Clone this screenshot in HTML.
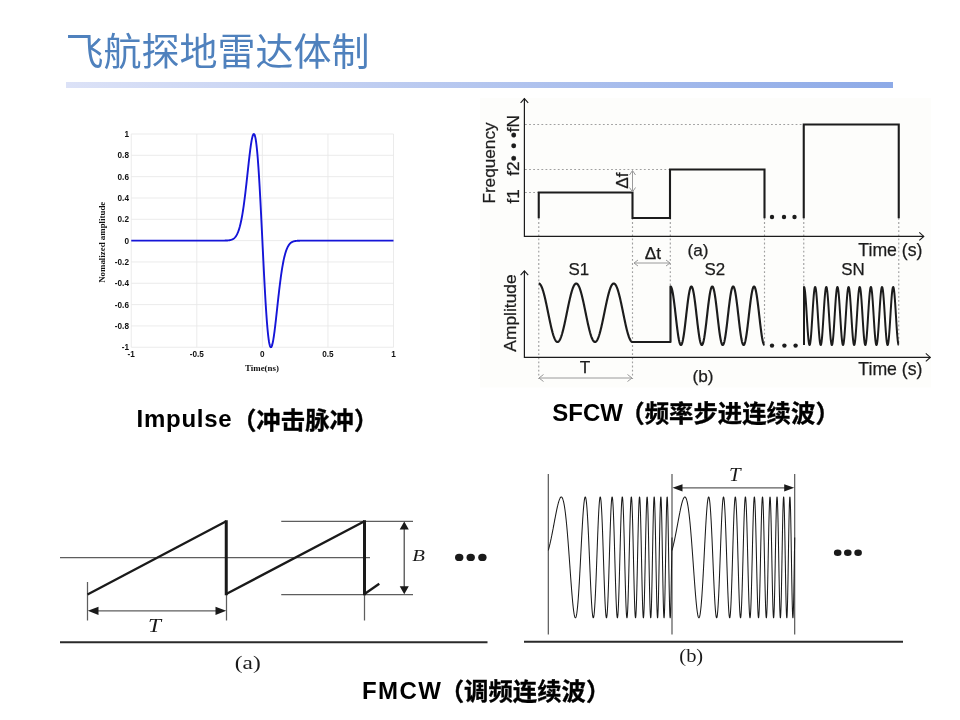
<!DOCTYPE html>
<html lang="zh-CN"><head><meta charset="utf-8"><title>飞航探地雷达体制</title>
<style>
html,body{margin:0;padding:0;background:#fff;}
body{width:960px;height:720px;position:relative;overflow:hidden;font-family:"Liberation Sans","Noto Sans CJK SC",sans-serif;}
.title{position:absolute;left:65.5px;top:25px;font-size:38px;line-height:54px;color:#4f81bd;font-weight:400;white-space:nowrap;letter-spacing:0;}
.bar{position:absolute;left:66px;top:82px;width:827px;height:6px;background:linear-gradient(90deg,#dce2f7 0%,#8daae7 100%);}
.cap{position:absolute;font-weight:700;font-size:23.5px;line-height:32px;color:#000;white-space:nowrap;}
svg{position:absolute;left:0;top:0;}
</style></head><body>
<div class="title">飞航探地雷达体制</div>
<div class="bar"></div>
<svg width="960" height="720" viewBox="0 0 960 720">
<path d="M131.25,134.0V347.25M196.81,134.0V347.25M262.38,134.0V347.25M327.94,134.0V347.25M393.50,134.0V347.25M131.25,134.00H393.5M131.25,155.32H393.5M131.25,176.65H393.5M131.25,197.97H393.5M131.25,219.30H393.5M131.25,240.62H393.5M131.25,261.95H393.5M131.25,283.27H393.5M131.25,304.60H393.5M131.25,325.93H393.5M131.25,347.25H393.5" stroke="#e7e7e7" stroke-width="0.85" fill="none"/>
<path d="M131.25,240.62 L131.58,240.62 L131.91,240.62 L132.23,240.62 L132.56,240.62 L132.89,240.62 L133.22,240.62 L133.54,240.62 L133.87,240.62 L134.20,240.62 L134.53,240.62 L134.86,240.62 L135.18,240.62 L135.51,240.62 L135.84,240.62 L136.17,240.62 L136.50,240.62 L136.82,240.62 L137.15,240.62 L137.48,240.62 L137.81,240.62 L138.13,240.62 L138.46,240.62 L138.79,240.62 L139.12,240.62 L139.45,240.62 L139.77,240.62 L140.10,240.62 L140.43,240.62 L140.76,240.62 L141.08,240.62 L141.41,240.62 L141.74,240.62 L142.07,240.62 L142.40,240.62 L142.72,240.62 L143.05,240.62 L143.38,240.62 L143.71,240.62 L144.03,240.62 L144.36,240.62 L144.69,240.62 L145.02,240.62 L145.35,240.62 L145.67,240.62 L146.00,240.62 L146.33,240.62 L146.66,240.62 L146.99,240.62 L147.31,240.62 L147.64,240.62 L147.97,240.62 L148.30,240.62 L148.62,240.62 L148.95,240.62 L149.28,240.62 L149.61,240.62 L149.94,240.62 L150.26,240.62 L150.59,240.62 L150.92,240.62 L151.25,240.62 L151.57,240.62 L151.90,240.62 L152.23,240.62 L152.56,240.62 L152.89,240.62 L153.21,240.62 L153.54,240.62 L153.87,240.62 L154.20,240.62 L154.52,240.62 L154.85,240.62 L155.18,240.62 L155.51,240.62 L155.84,240.62 L156.16,240.62 L156.49,240.62 L156.82,240.62 L157.15,240.62 L157.47,240.62 L157.80,240.62 L158.13,240.62 L158.46,240.62 L158.79,240.62 L159.11,240.62 L159.44,240.62 L159.77,240.62 L160.10,240.62 L160.43,240.62 L160.75,240.62 L161.08,240.62 L161.41,240.62 L161.74,240.62 L162.06,240.62 L162.39,240.62 L162.72,240.62 L163.05,240.62 L163.38,240.62 L163.70,240.62 L164.03,240.62 L164.36,240.62 L164.69,240.62 L165.01,240.62 L165.34,240.62 L165.67,240.62 L166.00,240.62 L166.33,240.62 L166.65,240.62 L166.98,240.62 L167.31,240.62 L167.64,240.62 L167.97,240.62 L168.29,240.62 L168.62,240.62 L168.95,240.62 L169.28,240.62 L169.60,240.62 L169.93,240.62 L170.26,240.62 L170.59,240.62 L170.92,240.62 L171.24,240.62 L171.57,240.62 L171.90,240.62 L172.23,240.62 L172.55,240.62 L172.88,240.62 L173.21,240.62 L173.54,240.62 L173.87,240.62 L174.19,240.62 L174.52,240.62 L174.85,240.62 L175.18,240.62 L175.50,240.62 L175.83,240.62 L176.16,240.62 L176.49,240.62 L176.82,240.62 L177.14,240.62 L177.47,240.62 L177.80,240.62 L178.13,240.62 L178.45,240.62 L178.78,240.62 L179.11,240.62 L179.44,240.62 L179.77,240.62 L180.09,240.62 L180.42,240.62 L180.75,240.62 L181.08,240.62 L181.41,240.62 L181.73,240.62 L182.06,240.62 L182.39,240.62 L182.72,240.62 L183.04,240.62 L183.37,240.62 L183.70,240.62 L184.03,240.62 L184.36,240.62 L184.68,240.62 L185.01,240.62 L185.34,240.62 L185.67,240.62 L185.99,240.62 L186.32,240.62 L186.65,240.62 L186.98,240.62 L187.31,240.62 L187.63,240.62 L187.96,240.62 L188.29,240.62 L188.62,240.62 L188.94,240.62 L189.27,240.62 L189.60,240.62 L189.93,240.62 L190.26,240.62 L190.58,240.62 L190.91,240.62 L191.24,240.62 L191.57,240.62 L191.90,240.62 L192.22,240.62 L192.55,240.62 L192.88,240.62 L193.21,240.62 L193.53,240.62 L193.86,240.62 L194.19,240.62 L194.52,240.62 L194.85,240.62 L195.17,240.62 L195.50,240.62 L195.83,240.62 L196.16,240.62 L196.48,240.62 L196.81,240.62 L197.14,240.62 L197.47,240.62 L197.80,240.62 L198.12,240.62 L198.45,240.62 L198.78,240.62 L199.11,240.62 L199.44,240.62 L199.76,240.62 L200.09,240.62 L200.42,240.62 L200.75,240.62 L201.07,240.62 L201.40,240.62 L201.73,240.62 L202.06,240.62 L202.39,240.62 L202.71,240.62 L203.04,240.62 L203.37,240.62 L203.70,240.62 L204.02,240.62 L204.35,240.62 L204.68,240.62 L205.01,240.62 L205.34,240.62 L205.66,240.62 L205.99,240.62 L206.32,240.62 L206.65,240.62 L206.97,240.62 L207.30,240.62 L207.63,240.62 L207.96,240.62 L208.29,240.62 L208.61,240.62 L208.94,240.62 L209.27,240.62 L209.60,240.62 L209.93,240.62 L210.25,240.62 L210.58,240.62 L210.91,240.62 L211.24,240.62 L211.56,240.62 L211.89,240.62 L212.22,240.62 L212.55,240.62 L212.88,240.62 L213.20,240.62 L213.53,240.62 L213.86,240.62 L214.19,240.62 L214.51,240.62 L214.84,240.62 L215.17,240.62 L215.50,240.62 L215.83,240.62 L216.15,240.62 L216.48,240.62 L216.81,240.62 L217.14,240.62 L217.46,240.62 L217.79,240.62 L218.12,240.62 L218.45,240.62 L218.78,240.62 L219.10,240.62 L219.43,240.62 L219.76,240.62 L220.09,240.62 L220.42,240.62 L220.74,240.62 L221.07,240.62 L221.40,240.62 L221.73,240.62 L222.05,240.61 L222.38,240.61 L222.71,240.61 L223.04,240.61 L223.37,240.60 L223.69,240.60 L224.02,240.59 L224.35,240.59 L224.68,240.58 L225.00,240.57 L225.33,240.56 L225.66,240.55 L225.99,240.54 L226.32,240.53 L226.64,240.51 L226.97,240.49 L227.30,240.47 L227.63,240.45 L227.95,240.42 L228.28,240.39 L228.61,240.35 L228.94,240.31 L229.27,240.26 L229.59,240.21 L229.92,240.15 L230.25,240.08 L230.58,240.00 L230.91,239.91 L231.23,239.81 L231.56,239.70 L231.89,239.58 L232.22,239.44 L232.54,239.28 L232.87,239.10 L233.20,238.91 L233.53,238.69 L233.86,238.45 L234.18,238.18 L234.51,237.88 L234.84,237.55 L235.17,237.19 L235.49,236.79 L235.82,236.35 L236.15,235.87 L236.48,235.34 L236.81,234.77 L237.13,234.14 L237.46,233.46 L237.79,232.71 L238.12,231.91 L238.44,231.04 L238.77,230.10 L239.10,229.09 L239.43,228.00 L239.76,226.84 L240.08,225.59 L240.41,224.25 L240.74,222.83 L241.07,221.32 L241.39,219.71 L241.72,218.01 L242.05,216.21 L242.38,214.32 L242.71,212.33 L243.03,210.24 L243.36,208.05 L243.69,205.77 L244.02,203.40 L244.35,200.93 L244.67,198.38 L245.00,195.75 L245.33,193.04 L245.66,190.26 L245.98,187.42 L246.31,184.52 L246.64,181.58 L246.97,178.60 L247.30,175.60 L247.62,172.58 L247.95,169.57 L248.28,166.57 L248.61,163.60 L248.93,160.67 L249.26,157.81 L249.59,155.02 L249.92,152.32 L250.25,149.74 L250.57,147.29 L250.90,144.99 L251.23,142.86 L251.56,140.92 L251.88,139.18 L252.21,137.66 L252.54,136.38 L252.87,135.36 L253.20,134.61 L253.52,134.16 L253.85,134.00 L254.18,134.16 L254.51,134.65 L254.84,135.47 L255.16,136.64 L255.49,138.16 L255.82,140.03 L256.15,142.26 L256.47,144.86 L256.80,147.80 L257.13,151.11 L257.46,154.75 L257.79,158.74 L258.11,163.06 L258.44,167.69 L258.77,172.62 L259.10,177.83 L259.42,183.31 L259.75,189.04 L260.08,194.98 L260.41,201.12 L260.74,207.44 L261.06,213.90 L261.39,220.48 L261.72,227.14 L262.05,233.87 L262.38,240.62 L262.70,247.38 L263.03,254.11 L263.36,260.77 L263.69,267.35 L264.01,273.81 L264.34,280.13 L264.67,286.27 L265.00,292.21 L265.33,297.94 L265.65,303.42 L265.98,308.63 L266.31,313.56 L266.64,318.19 L266.96,322.51 L267.29,326.50 L267.62,330.14 L267.95,333.45 L268.28,336.39 L268.60,338.99 L268.93,341.22 L269.26,343.09 L269.59,344.61 L269.91,345.78 L270.24,346.60 L270.57,347.09 L270.90,347.25 L271.23,347.09 L271.55,346.64 L271.88,345.89 L272.21,344.87 L272.54,343.59 L272.87,342.07 L273.19,340.33 L273.52,338.39 L273.85,336.26 L274.18,333.96 L274.50,331.51 L274.83,328.93 L275.16,326.23 L275.49,323.44 L275.82,320.58 L276.14,317.65 L276.47,314.68 L276.80,311.68 L277.13,308.67 L277.45,305.65 L277.78,302.65 L278.11,299.67 L278.44,296.73 L278.77,293.83 L279.09,290.99 L279.42,288.21 L279.75,285.50 L280.08,282.87 L280.40,280.32 L280.73,277.85 L281.06,275.48 L281.39,273.20 L281.72,271.01 L282.04,268.92 L282.37,266.93 L282.70,265.04 L283.03,263.24 L283.36,261.54 L283.68,259.93 L284.01,258.42 L284.34,257.00 L284.67,255.66 L284.99,254.41 L285.32,253.25 L285.65,252.16 L285.98,251.15 L286.31,250.21 L286.63,249.34 L286.96,248.54 L287.29,247.79 L287.62,247.11 L287.94,246.48 L288.27,245.91 L288.60,245.38 L288.93,244.90 L289.26,244.46 L289.58,244.06 L289.91,243.70 L290.24,243.37 L290.57,243.07 L290.89,242.80 L291.22,242.56 L291.55,242.34 L291.88,242.15 L292.21,241.97 L292.53,241.81 L292.86,241.67 L293.19,241.55 L293.52,241.44 L293.85,241.34 L294.17,241.25 L294.50,241.17 L294.83,241.10 L295.16,241.04 L295.48,240.99 L295.81,240.94 L296.14,240.90 L296.47,240.86 L296.80,240.83 L297.12,240.80 L297.45,240.78 L297.78,240.76 L298.11,240.74 L298.43,240.72 L298.76,240.71 L299.09,240.70 L299.42,240.69 L299.75,240.68 L300.07,240.67 L300.40,240.66 L300.73,240.66 L301.06,240.65 L301.38,240.65 L301.71,240.64 L302.04,240.64 L302.37,240.64 L302.70,240.64 L303.02,240.63 L303.35,240.63 L303.68,240.63 L304.01,240.63 L304.34,240.63 L304.66,240.63 L304.99,240.63 L305.32,240.63 L305.65,240.63 L305.97,240.63 L306.30,240.63 L306.63,240.63 L306.96,240.63 L307.29,240.63 L307.61,240.63 L307.94,240.63 L308.27,240.63 L308.60,240.63 L308.92,240.63 L309.25,240.63 L309.58,240.63 L309.91,240.63 L310.24,240.63 L310.56,240.63 L310.89,240.63 L311.22,240.63 L311.55,240.63 L311.87,240.63 L312.20,240.63 L312.53,240.63 L312.86,240.63 L313.19,240.63 L313.51,240.63 L313.84,240.63 L314.17,240.63 L314.50,240.63 L314.83,240.63 L315.15,240.63 L315.48,240.63 L315.81,240.63 L316.14,240.63 L316.46,240.63 L316.79,240.63 L317.12,240.63 L317.45,240.63 L317.78,240.63 L318.10,240.63 L318.43,240.63 L318.76,240.63 L319.09,240.63 L319.41,240.63 L319.74,240.63 L320.07,240.63 L320.40,240.63 L320.73,240.63 L321.05,240.63 L321.38,240.63 L321.71,240.63 L322.04,240.63 L322.36,240.63 L322.69,240.63 L323.02,240.63 L323.35,240.63 L323.68,240.63 L324.00,240.63 L324.33,240.63 L324.66,240.63 L324.99,240.63 L325.31,240.63 L325.64,240.63 L325.97,240.63 L326.30,240.63 L326.63,240.63 L326.95,240.63 L327.28,240.63 L327.61,240.63 L327.94,240.63 L328.27,240.63 L328.59,240.63 L328.92,240.63 L329.25,240.63 L329.58,240.63 L329.90,240.63 L330.23,240.63 L330.56,240.63 L330.89,240.63 L331.22,240.63 L331.54,240.63 L331.87,240.63 L332.20,240.63 L332.53,240.63 L332.85,240.63 L333.18,240.63 L333.51,240.63 L333.84,240.63 L334.17,240.63 L334.49,240.63 L334.82,240.63 L335.15,240.63 L335.48,240.63 L335.81,240.63 L336.13,240.63 L336.46,240.63 L336.79,240.63 L337.12,240.63 L337.44,240.63 L337.77,240.63 L338.10,240.62 L338.43,240.62 L338.76,240.62 L339.08,240.62 L339.41,240.62 L339.74,240.62 L340.07,240.62 L340.39,240.62 L340.72,240.62 L341.05,240.62 L341.38,240.62 L341.71,240.62 L342.03,240.62 L342.36,240.62 L342.69,240.62 L343.02,240.62 L343.34,240.62 L343.67,240.62 L344.00,240.62 L344.33,240.62 L344.66,240.62 L344.98,240.62 L345.31,240.62 L345.64,240.62 L345.97,240.62 L346.30,240.62 L346.62,240.62 L346.95,240.62 L347.28,240.62 L347.61,240.62 L347.93,240.62 L348.26,240.62 L348.59,240.62 L348.92,240.62 L349.25,240.62 L349.57,240.62 L349.90,240.62 L350.23,240.62 L350.56,240.62 L350.88,240.62 L351.21,240.62 L351.54,240.62 L351.87,240.62 L352.20,240.62 L352.52,240.62 L352.85,240.62 L353.18,240.62 L353.51,240.62 L353.83,240.62 L354.16,240.62 L354.49,240.62 L354.82,240.62 L355.15,240.62 L355.47,240.62 L355.80,240.62 L356.13,240.62 L356.46,240.62 L356.78,240.62 L357.11,240.62 L357.44,240.62 L357.77,240.62 L358.10,240.62 L358.42,240.62 L358.75,240.62 L359.08,240.62 L359.41,240.62 L359.74,240.62 L360.06,240.62 L360.39,240.62 L360.72,240.62 L361.05,240.62 L361.37,240.62 L361.70,240.62 L362.03,240.62 L362.36,240.62 L362.69,240.62 L363.01,240.62 L363.34,240.62 L363.67,240.62 L364.00,240.62 L364.32,240.62 L364.65,240.62 L364.98,240.62 L365.31,240.62 L365.64,240.62 L365.96,240.62 L366.29,240.62 L366.62,240.62 L366.95,240.62 L367.27,240.62 L367.60,240.62 L367.93,240.62 L368.26,240.62 L368.59,240.62 L368.91,240.62 L369.24,240.62 L369.57,240.62 L369.90,240.62 L370.23,240.62 L370.55,240.62 L370.88,240.62 L371.21,240.62 L371.54,240.62 L371.86,240.62 L372.19,240.62 L372.52,240.62 L372.85,240.62 L373.18,240.62 L373.50,240.62 L373.83,240.62 L374.16,240.62 L374.49,240.62 L374.81,240.62 L375.14,240.62 L375.47,240.62 L375.80,240.62 L376.13,240.62 L376.45,240.62 L376.78,240.62 L377.11,240.62 L377.44,240.62 L377.76,240.62 L378.09,240.62 L378.42,240.62 L378.75,240.62 L379.08,240.62 L379.40,240.62 L379.73,240.62 L380.06,240.62 L380.39,240.62 L380.72,240.62 L381.04,240.62 L381.37,240.62 L381.70,240.62 L382.03,240.62 L382.35,240.62 L382.68,240.62 L383.01,240.62 L383.34,240.62 L383.67,240.62 L383.99,240.62 L384.32,240.62 L384.65,240.62 L384.98,240.62 L385.30,240.62 L385.63,240.62 L385.96,240.62 L386.29,240.62 L386.62,240.62 L386.94,240.62 L387.27,240.62 L387.60,240.62 L387.93,240.62 L388.25,240.62 L388.58,240.62 L388.91,240.62 L389.24,240.62 L389.57,240.62 L389.89,240.62 L390.22,240.62 L390.55,240.62 L390.88,240.62 L391.21,240.62 L391.53,240.62 L391.86,240.62 L392.19,240.62 L392.52,240.62 L392.84,240.62 L393.17,240.62 L393.50,240.62" stroke="#1515d8" stroke-width="1.9" fill="none" stroke-linejoin="round"/>
<g font-family="'Liberation Sans',sans-serif" font-weight="bold" font-size="8.2" fill="#111">
<text x="128.95" y="136.90" text-anchor="end">1</text>
<text x="128.95" y="158.22" text-anchor="end">0.8</text>
<text x="128.95" y="179.55" text-anchor="end">0.6</text>
<text x="128.95" y="200.88" text-anchor="end">0.4</text>
<text x="128.95" y="222.20" text-anchor="end">0.2</text>
<text x="128.95" y="243.53" text-anchor="end">0</text>
<text x="128.95" y="264.85" text-anchor="end">-0.2</text>
<text x="128.95" y="286.17" text-anchor="end">-0.4</text>
<text x="128.95" y="307.50" text-anchor="end">-0.6</text>
<text x="128.95" y="328.82" text-anchor="end">-0.8</text>
<text x="128.95" y="350.15" text-anchor="end">-1</text>
<text x="131.25" y="356.85" text-anchor="middle">-1</text>
<text x="196.81" y="356.85" text-anchor="middle">-0.5</text>
<text x="262.38" y="356.85" text-anchor="middle">0</text>
<text x="327.94" y="356.85" text-anchor="middle">0.5</text>
<text x="393.50" y="356.85" text-anchor="middle">1</text>
</g>
<g font-family="'Liberation Serif',serif" font-weight="bold" font-size="8.9" fill="#111">
<text x="262" y="371" text-anchor="middle">Time(ns)</text>
<text transform="translate(104.8,242.3) rotate(-90)" text-anchor="middle">Nomalized amplitude</text>
</g>
<rect x="480" y="98" width="451" height="289.5" fill="#fdfdfb"/>
<path d="M525,124.5H804M525,169.5H670M525,192.5H539M538.75,218V379M632.5,218V379M670.3,218V286M764.5,218V345M803.75,218V287M898.75,218V345" stroke="#a0a0a0" stroke-width="1.15" stroke-dasharray="1.8 2.3" fill="none"/>
<path d="M524.4,98.6V236.4H923.8" stroke="#1c1c1c" stroke-width="1.2" fill="none"/>
<path d="M520.6,102.9L524.4,98.6L528.2,102.9M919.3,232.4L923.8,236.4L919.3,240.4" stroke="#1c1c1c" stroke-width="1.1" fill="none"/>
<path d="M538.75,218.3V192.5H632.5V218H670V169.5H764.5V218.3M803.75,218.3V124.5H898.75V218.3" stroke="#1c1c1c" stroke-width="2.1" fill="none" stroke-linejoin="miter"/>
<circle cx="772" cy="217" r="2.2" fill="#1c1c1c"/>
<circle cx="784" cy="217" r="2.2" fill="#1c1c1c"/>
<circle cx="794.5" cy="217" r="2.2" fill="#1c1c1c"/>
<path d="M524.4,270.9V357.4H930.3" stroke="#1c1c1c" stroke-width="1.2" fill="none"/>
<path d="M520.6,275.2L524.4,270.9L528.2,275.2M925.8,353.4L930.3,357.4L925.8,361.4" stroke="#1c1c1c" stroke-width="1.1" fill="none"/>
<path d="M538.75,283.50 L538.98,283.52 L539.22,283.59 L539.45,283.70 L539.69,283.86 L539.92,284.06 L540.16,284.31 L540.39,284.60 L540.63,284.94 L540.86,285.32 L541.10,285.74 L541.33,286.20 L541.57,286.70 L541.80,287.25 L542.04,287.83 L542.27,288.45 L542.51,289.11 L542.74,289.81 L542.98,290.54 L543.21,291.31 L543.45,292.11 L543.68,292.94 L543.92,293.80 L544.15,294.69 L544.39,295.61 L544.62,296.56 L544.86,297.53 L545.09,298.53 L545.33,299.54 L545.56,300.58 L545.80,301.64 L546.03,302.71 L546.27,303.80 L546.50,304.90 L546.74,306.02 L546.97,307.14 L547.21,308.28 L547.44,309.42 L547.68,310.56 L547.91,311.71 L548.15,312.87 L548.38,314.02 L548.62,315.17 L548.85,316.31 L549.09,317.45 L549.32,318.58 L549.56,319.71 L549.79,320.82 L550.03,321.92 L550.26,323.01 L550.50,324.08 L550.73,325.13 L550.97,326.16 L551.20,327.18 L551.44,328.17 L551.67,329.13 L551.91,330.07 L552.14,330.99 L552.38,331.87 L552.61,332.73 L552.85,333.55 L553.08,334.35 L553.32,335.11 L553.55,335.83 L553.79,336.52 L554.02,337.17 L554.26,337.79 L554.49,338.36 L554.73,338.90 L554.96,339.40 L555.20,339.85 L555.43,340.26 L555.67,340.63 L555.90,340.96 L556.14,341.24 L556.37,341.48 L556.61,341.67 L556.84,341.82 L557.08,341.93 L557.31,341.99 L557.55,342.00 L557.78,341.97 L558.02,341.89 L558.25,341.77 L558.49,341.60 L558.72,341.39 L558.96,341.13 L559.19,340.83 L559.43,340.49 L559.66,340.10 L559.90,339.67 L560.13,339.20 L560.37,338.69 L560.60,338.14 L560.84,337.55 L561.07,336.92 L561.31,336.25 L561.54,335.55 L561.78,334.81 L562.01,334.03 L562.25,333.23 L562.48,332.39 L562.72,331.52 L562.95,330.62 L563.19,329.70 L563.42,328.75 L563.66,327.77 L563.89,326.77 L564.13,325.75 L564.36,324.71 L564.60,323.65 L564.83,322.57 L565.07,321.48 L565.30,320.38 L565.54,319.26 L565.77,318.13 L566.01,317.00 L566.24,315.85 L566.48,314.71 L566.71,313.56 L566.95,312.40 L567.18,311.25 L567.42,310.11 L567.65,308.96 L567.89,307.82 L568.12,306.69 L568.36,305.57 L568.59,304.46 L568.83,303.36 L569.06,302.28 L569.30,301.21 L569.53,300.16 L569.77,299.13 L570.00,298.12 L570.23,297.14 L570.47,296.18 L570.70,295.24 L570.94,294.33 L571.17,293.45 L571.41,292.60 L571.64,291.78 L571.88,291.00 L572.11,290.24 L572.35,289.53 L572.58,288.84 L572.82,288.20 L573.05,287.59 L573.29,287.03 L573.52,286.50 L573.76,286.01 L573.99,285.56 L574.23,285.16 L574.46,284.80 L574.70,284.48 L574.93,284.21 L575.17,283.98 L575.40,283.79 L575.64,283.65 L575.87,283.56 L576.11,283.51 L576.34,283.50 L576.58,283.54 L576.81,283.63 L577.05,283.76 L577.28,283.94 L577.52,284.16 L577.75,284.42 L577.99,284.73 L578.22,285.08 L578.46,285.48 L578.69,285.92 L578.93,286.40 L579.16,286.92 L579.40,287.48 L579.63,288.08 L579.87,288.71 L580.10,289.39 L580.34,290.10 L580.57,290.84 L580.81,291.62 L581.04,292.44 L581.28,293.28 L581.51,294.16 L581.75,295.06 L581.98,295.99 L582.22,296.95 L582.45,297.93 L582.69,298.93 L582.92,299.96 L583.16,301.00 L583.39,302.06 L583.63,303.14 L583.86,304.24 L584.10,305.35 L584.33,306.47 L584.57,307.60 L584.80,308.73 L585.04,309.88 L585.27,311.02 L585.51,312.17 L585.74,313.33 L585.98,314.48 L586.21,315.62 L586.45,316.77 L586.68,317.90 L586.92,319.03 L587.15,320.15 L587.39,321.26 L587.62,322.36 L587.86,323.44 L588.09,324.50 L588.33,325.54 L588.56,326.57 L588.80,327.57 L589.03,328.55 L589.27,329.51 L589.50,330.44 L589.74,331.34 L589.97,332.22 L590.21,333.06 L590.44,333.88 L590.68,334.66 L590.91,335.40 L591.15,336.11 L591.38,336.79 L591.62,337.42 L591.85,338.02 L592.09,338.58 L592.32,339.10 L592.56,339.58 L592.79,340.02 L593.03,340.42 L593.26,340.77 L593.50,341.08 L593.73,341.34 L593.97,341.56 L594.20,341.74 L594.44,341.87 L594.67,341.96 L594.91,342.00 L595.14,341.99 L595.38,341.94 L595.61,341.85 L595.85,341.71 L596.08,341.52 L596.32,341.29 L596.55,341.02 L596.79,340.70 L597.02,340.34 L597.26,339.94 L597.49,339.49 L597.73,339.00 L597.96,338.47 L598.20,337.91 L598.43,337.30 L598.67,336.66 L598.90,335.97 L599.14,335.26 L599.37,334.50 L599.61,333.72 L599.84,332.90 L600.08,332.05 L600.31,331.17 L600.55,330.26 L600.78,329.32 L601.02,328.36 L601.25,327.38 L601.48,326.37 L601.72,325.34 L601.95,324.29 L602.19,323.22 L602.42,322.14 L602.66,321.04 L602.89,319.93 L603.13,318.81 L603.36,317.68 L603.60,316.54 L603.83,315.39 L604.07,314.25 L604.30,313.10 L604.54,311.94 L604.77,310.79 L605.01,309.65 L605.24,308.50 L605.48,307.37 L605.71,306.24 L605.95,305.12 L606.18,304.02 L606.42,302.93 L606.65,301.85 L606.89,300.79 L607.12,299.75 L607.36,298.73 L607.59,297.73 L607.83,296.75 L608.06,295.80 L608.30,294.88 L608.53,293.98 L608.77,293.11 L609.00,292.27 L609.24,291.47 L609.47,290.69 L609.71,289.95 L609.94,289.25 L610.18,288.58 L610.41,287.95 L610.65,287.36 L610.88,286.81 L611.12,286.30 L611.35,285.83 L611.59,285.40 L611.82,285.01 L612.06,284.67 L612.29,284.37 L612.53,284.11 L612.76,283.90 L613.00,283.73 L613.23,283.61 L613.47,283.53 L613.70,283.50 L613.94,283.51 L614.17,283.57 L614.41,283.68 L614.64,283.83 L614.88,284.02 L615.11,284.26 L615.35,284.54 L615.58,284.87 L615.82,285.24 L616.05,285.65 L616.29,286.10 L616.52,286.60 L616.76,287.14 L616.99,287.71 L617.23,288.33 L617.46,288.98 L617.70,289.67 L617.93,290.39 L618.17,291.15 L618.40,291.95 L618.64,292.77 L618.87,293.63 L619.11,294.51 L619.34,295.43 L619.58,296.37 L619.81,297.33 L620.05,298.32 L620.28,299.34 L620.52,300.37 L620.75,301.42 L620.99,302.49 L621.22,303.58 L621.46,304.68 L621.69,305.79 L621.93,306.92 L622.16,308.05 L622.40,309.19 L622.63,310.33 L622.87,311.48 L623.10,312.63 L623.34,313.79 L623.57,314.94 L623.81,316.08 L624.04,317.22 L624.28,318.36 L624.51,319.48 L624.75,320.60 L624.98,321.70 L625.22,322.79 L625.45,323.86 L625.69,324.92 L625.92,325.96 L626.16,326.97 L626.39,327.97 L626.63,328.94 L626.86,329.89 L627.10,330.81 L627.33,331.70 L627.57,332.56 L627.80,333.39 L628.04,334.19 L628.27,334.96 L628.51,335.69 L628.74,336.39 L628.98,337.05 L629.21,337.67 L629.45,338.25 L629.68,338.80 L629.92,339.30 L630.15,339.76 L630.39,340.18 L630.62,340.56 L630.86,340.90 L631.09,341.19 L631.33,341.44 L631.56,341.64 L631.80,341.80 L632.03,341.91 L632.27,341.98 L632.50,342.00 L670.50,342.00 L670.50,286.50 L670.74,286.57 L670.97,286.79 L671.21,287.16 L671.44,287.67 L671.68,288.32 L671.91,289.10 L672.15,290.03 L672.38,291.08 L672.62,292.25 L672.86,293.54 L673.09,294.95 L673.33,296.45 L673.56,298.06 L673.80,299.75 L674.03,301.53 L674.27,303.37 L674.51,305.28 L674.74,307.24 L674.98,309.24 L675.21,311.28 L675.45,313.33 L675.68,315.40 L675.92,317.48 L676.15,319.54 L676.39,321.58 L676.63,323.60 L676.86,325.57 L677.10,327.50 L677.33,329.37 L677.57,331.17 L677.80,332.89 L678.04,334.52 L678.27,336.06 L678.51,337.50 L678.75,338.83 L678.98,340.05 L679.22,341.14 L679.45,342.10 L679.69,342.94 L679.92,343.63 L680.16,344.19 L680.39,344.60 L680.63,344.87 L680.87,344.99 L681.10,344.97 L681.34,344.80 L681.57,344.48 L681.81,344.02 L682.04,343.42 L682.28,342.67 L682.52,341.80 L682.75,340.79 L682.99,339.66 L683.22,338.40 L683.46,337.03 L683.69,335.56 L683.93,333.99 L684.16,332.32 L684.40,330.57 L684.64,328.75 L684.87,326.86 L685.11,324.92 L685.34,322.93 L685.58,320.90 L685.81,318.85 L686.05,316.79 L686.28,314.71 L686.52,312.65 L686.76,310.60 L686.99,308.57 L687.23,306.58 L687.46,304.64 L687.70,302.75 L687.93,300.93 L688.17,299.18 L688.40,297.51 L688.64,295.94 L688.88,294.47 L689.11,293.10 L689.35,291.84 L689.58,290.71 L689.82,289.70 L690.05,288.83 L690.29,288.08 L690.53,287.48 L690.76,287.02 L691.00,286.70 L691.23,286.53 L691.47,286.51 L691.70,286.63 L691.94,286.90 L692.17,287.31 L692.41,287.87 L692.65,288.56 L692.88,289.40 L693.12,290.36 L693.35,291.45 L693.59,292.67 L693.82,294.00 L694.06,295.44 L694.29,296.98 L694.53,298.61 L694.77,300.33 L695.00,302.13 L695.24,304.00 L695.47,305.93 L695.71,307.90 L695.94,309.92 L696.18,311.96 L696.41,314.02 L696.65,316.10 L696.89,318.17 L697.12,320.22 L697.36,322.26 L697.59,324.26 L697.83,326.22 L698.06,328.13 L698.30,329.97 L698.54,331.75 L698.77,333.44 L699.01,335.05 L699.24,336.55 L699.48,337.96 L699.71,339.25 L699.95,340.42 L700.18,341.47 L700.42,342.40 L700.66,343.18 L700.89,343.83 L701.13,344.34 L701.36,344.71 L701.60,344.93 L701.83,345.00 L702.07,344.93 L702.30,344.71 L702.54,344.34 L702.78,343.83 L703.01,343.18 L703.25,342.40 L703.48,341.47 L703.72,340.42 L703.95,339.25 L704.19,337.96 L704.42,336.55 L704.66,335.05 L704.90,333.44 L705.13,331.75 L705.37,329.97 L705.60,328.13 L705.84,326.22 L706.07,324.26 L706.31,322.26 L706.55,320.22 L706.78,318.17 L707.02,316.10 L707.25,314.02 L707.49,311.96 L707.72,309.92 L707.96,307.90 L708.19,305.93 L708.43,304.00 L708.67,302.13 L708.90,300.33 L709.14,298.61 L709.37,296.98 L709.61,295.44 L709.84,294.00 L710.08,292.67 L710.31,291.45 L710.55,290.36 L710.79,289.40 L711.02,288.56 L711.26,287.87 L711.49,287.31 L711.73,286.90 L711.96,286.63 L712.20,286.51 L712.43,286.53 L712.67,286.70 L712.91,287.02 L713.14,287.48 L713.38,288.08 L713.61,288.83 L713.85,289.70 L714.08,290.71 L714.32,291.84 L714.56,293.10 L714.79,294.47 L715.03,295.94 L715.26,297.51 L715.50,299.18 L715.73,300.93 L715.97,302.75 L716.20,304.64 L716.44,306.58 L716.68,308.57 L716.91,310.60 L717.15,312.65 L717.38,314.71 L717.62,316.79 L717.85,318.85 L718.09,320.90 L718.32,322.93 L718.56,324.92 L718.80,326.86 L719.03,328.75 L719.27,330.57 L719.50,332.32 L719.74,333.99 L719.97,335.56 L720.21,337.03 L720.44,338.40 L720.68,339.66 L720.92,340.79 L721.15,341.80 L721.39,342.67 L721.62,343.42 L721.86,344.02 L722.09,344.48 L722.33,344.80 L722.57,344.97 L722.80,344.99 L723.04,344.87 L723.27,344.60 L723.51,344.19 L723.74,343.63 L723.98,342.94 L724.21,342.10 L724.45,341.14 L724.69,340.05 L724.92,338.83 L725.16,337.50 L725.39,336.06 L725.63,334.52 L725.86,332.89 L726.10,331.17 L726.33,329.37 L726.57,327.50 L726.81,325.57 L727.04,323.60 L727.28,321.58 L727.51,319.54 L727.75,317.48 L727.98,315.40 L728.22,313.33 L728.45,311.28 L728.69,309.24 L728.93,307.24 L729.16,305.28 L729.40,303.37 L729.63,301.53 L729.87,299.75 L730.10,298.06 L730.34,296.45 L730.58,294.95 L730.81,293.54 L731.05,292.25 L731.28,291.08 L731.52,290.03 L731.75,289.10 L731.99,288.32 L732.22,287.67 L732.46,287.16 L732.70,286.79 L732.93,286.57 L733.17,286.50 L733.40,286.57 L733.64,286.79 L733.87,287.16 L734.11,287.67 L734.34,288.32 L734.58,289.10 L734.82,290.03 L735.05,291.08 L735.29,292.25 L735.52,293.54 L735.76,294.95 L735.99,296.45 L736.23,298.06 L736.46,299.75 L736.70,301.53 L736.94,303.37 L737.17,305.28 L737.41,307.24 L737.64,309.24 L737.88,311.28 L738.11,313.33 L738.35,315.40 L738.59,317.48 L738.82,319.54 L739.06,321.58 L739.29,323.60 L739.53,325.57 L739.76,327.50 L740.00,329.37 L740.23,331.17 L740.47,332.89 L740.71,334.52 L740.94,336.06 L741.18,337.50 L741.41,338.83 L741.65,340.05 L741.88,341.14 L742.12,342.10 L742.35,342.94 L742.59,343.63 L742.83,344.19 L743.06,344.60 L743.30,344.87 L743.53,344.99 L743.77,344.97 L744.00,344.80 L744.24,344.48 L744.47,344.02 L744.71,343.42 L744.95,342.67 L745.18,341.80 L745.42,340.79 L745.65,339.66 L745.89,338.40 L746.12,337.03 L746.36,335.56 L746.60,333.99 L746.83,332.32 L747.07,330.57 L747.30,328.75 L747.54,326.86 L747.77,324.92 L748.01,322.93 L748.24,320.90 L748.48,318.85 L748.72,316.79 L748.95,314.71 L749.19,312.65 L749.42,310.60 L749.66,308.57 L749.89,306.58 L750.13,304.64 L750.36,302.75 L750.60,300.93 L750.84,299.18 L751.07,297.51 L751.31,295.94 L751.54,294.47 L751.78,293.10 L752.01,291.84 L752.25,290.71 L752.48,289.70 L752.72,288.83 L752.96,288.08 L753.19,287.48 L753.43,287.02 L753.66,286.70 L753.90,286.53 L754.13,286.51 L754.37,286.63 L754.61,286.90 L754.84,287.31 L755.08,287.87 L755.31,288.56 L755.55,289.40 L755.78,290.36 L756.02,291.45 L756.25,292.67 L756.49,294.00 L756.73,295.44 L756.96,296.98 L757.20,298.61 L757.43,300.33 L757.67,302.13 L757.90,304.00 L758.14,305.93 L758.37,307.90 L758.61,309.92 L758.85,311.96 L759.08,314.02 L759.32,316.10 L759.55,318.17 L759.79,320.22 L760.02,322.26 L760.26,324.26 L760.49,326.22 L760.73,328.13 L760.97,329.97 L761.20,331.75 L761.44,333.44 L761.67,335.05 L761.91,336.55 L762.14,337.96 L762.38,339.25 L762.62,340.42 L762.85,341.47 L763.09,342.40 L763.32,343.18 L763.56,343.83 L763.79,344.34 L764.03,344.71 L764.26,344.93 L764.50,345.00" stroke="#1c1c1c" stroke-width="2.15" fill="none" stroke-linejoin="round"/>
<path d="M804.00,345.00 L804.00,287.00 L804.11,287.05 L804.21,287.20 L804.32,287.46 L804.42,287.81 L804.53,288.27 L804.63,288.82 L804.74,289.47 L804.84,290.21 L804.95,291.05 L805.05,291.97 L805.16,292.97 L805.26,294.06 L805.37,295.23 L805.48,296.47 L805.58,297.77 L805.69,299.14 L805.79,300.57 L805.90,302.06 L806.00,303.59 L806.11,305.17 L806.21,306.79 L806.32,308.44 L806.42,310.11 L806.53,311.81 L806.63,313.52 L806.74,315.24 L806.85,316.96 L806.95,318.68 L807.06,320.39 L807.16,322.09 L807.27,323.76 L807.37,325.40 L807.48,327.02 L807.58,328.59 L807.69,330.12 L807.79,331.60 L807.90,333.02 L808.01,334.39 L808.11,335.68 L808.22,336.91 L808.32,338.07 L808.43,339.15 L808.53,340.14 L808.64,341.06 L808.74,341.88 L808.85,342.61 L808.95,343.25 L809.06,343.79 L809.16,344.23 L809.27,344.58 L809.38,344.82 L809.48,344.96 L809.59,345.00 L809.69,344.94 L809.80,344.77 L809.90,344.50 L810.01,344.14 L810.11,343.67 L810.22,343.11 L810.32,342.45 L810.43,341.69 L810.53,340.85 L810.64,339.92 L810.75,338.90 L810.85,337.80 L810.96,336.63 L811.06,335.38 L811.17,334.07 L811.27,332.69 L811.38,331.25 L811.48,329.76 L811.59,328.22 L811.69,326.64 L811.80,325.02 L811.90,323.37 L812.01,321.69 L812.12,319.99 L812.22,318.28 L812.33,316.56 L812.43,314.83 L812.54,313.12 L812.64,311.41 L812.75,309.72 L812.85,308.05 L812.96,306.40 L813.06,304.80 L813.17,303.23 L813.27,301.71 L813.38,300.23 L813.49,298.82 L813.59,297.46 L813.70,296.17 L813.80,294.95 L813.91,293.80 L814.01,292.73 L814.12,291.74 L814.22,290.84 L814.33,290.03 L814.43,289.31 L814.54,288.68 L814.64,288.15 L814.75,287.72 L814.86,287.39 L814.96,287.16 L815.07,287.03 L815.17,287.00 L815.28,287.08 L815.38,287.26 L815.49,287.53 L815.59,287.91 L815.70,288.39 L815.80,288.97 L815.91,289.64 L816.02,290.40 L816.12,291.26 L816.23,292.20 L816.33,293.22 L816.44,294.33 L816.54,295.51 L816.65,296.77 L816.75,298.09 L816.86,299.47 L816.96,300.92 L817.07,302.42 L817.17,303.96 L817.28,305.55 L817.39,307.17 L817.49,308.83 L817.60,310.51 L817.70,312.21 L817.81,313.92 L817.91,315.65 L818.02,317.37 L818.12,319.09 L818.23,320.79 L818.33,322.48 L818.44,324.15 L818.54,325.79 L818.65,327.39 L818.76,328.95 L818.86,330.47 L818.97,331.94 L819.07,333.35 L819.18,334.70 L819.28,335.98 L819.39,337.19 L819.49,338.33 L819.60,339.39 L819.70,340.37 L819.81,341.26 L819.91,342.06 L820.02,342.77 L820.13,343.38 L820.23,343.90 L820.34,344.32 L820.44,344.64 L820.55,344.86 L820.65,344.98 L820.76,344.99 L820.86,344.91 L820.97,344.72 L821.07,344.43 L821.18,344.04 L821.28,343.55 L821.39,342.96 L821.50,342.28 L821.60,341.50 L821.71,340.64 L821.81,339.69 L821.92,338.65 L822.02,337.54 L822.13,336.34 L822.23,335.08 L822.34,333.75 L822.44,332.36 L822.55,330.91 L822.65,329.40 L822.76,327.85 L822.87,326.26 L822.97,324.63 L823.08,322.97 L823.18,321.29 L823.29,319.59 L823.39,317.87 L823.50,316.15 L823.60,314.43 L823.71,312.71 L823.81,311.01 L823.92,309.32 L824.03,307.66 L824.13,306.02 L824.24,304.42 L824.34,302.87 L824.45,301.35 L824.55,299.89 L824.66,298.49 L824.76,297.15 L824.87,295.87 L824.97,294.67 L825.08,293.54 L825.18,292.49 L825.29,291.52 L825.40,290.64 L825.50,289.85 L825.61,289.15 L825.71,288.55 L825.82,288.04 L825.92,287.64 L826.03,287.33 L826.13,287.12 L826.24,287.01 L826.34,287.01 L826.45,287.11 L826.55,287.31 L826.66,287.61 L826.77,288.02 L826.87,288.52 L826.98,289.12 L827.08,289.81 L827.19,290.59 L827.29,291.47 L827.40,292.43 L827.50,293.48 L827.61,294.60 L827.71,295.80 L827.82,297.07 L827.92,298.41 L828.03,299.81 L828.14,301.27 L828.24,302.78 L828.35,304.33 L828.45,305.93 L828.56,307.56 L828.66,309.22 L828.77,310.91 L828.87,312.61 L828.98,314.33 L829.08,316.05 L829.19,317.77 L829.29,319.49 L829.40,321.19 L829.51,322.88 L829.61,324.54 L829.72,326.17 L829.82,327.76 L829.93,329.31 L830.03,330.82 L830.14,332.27 L830.24,333.67 L830.35,335.00 L830.45,336.27 L830.56,337.47 L830.66,338.59 L830.77,339.63 L830.88,340.58 L830.98,341.45 L831.09,342.23 L831.19,342.92 L831.30,343.51 L831.40,344.01 L831.51,344.41 L831.61,344.70 L831.72,344.90 L831.82,344.99 L831.93,344.98 L832.04,344.87 L832.14,344.66 L832.25,344.34 L832.35,343.93 L832.46,343.42 L832.56,342.81 L832.67,342.10 L832.77,341.31 L832.88,340.42 L832.98,339.45 L833.09,338.40 L833.19,337.26 L833.30,336.05 L833.41,334.77 L833.51,333.43 L833.62,332.02 L833.72,330.56 L833.83,329.04 L833.93,327.48 L834.04,325.88 L834.14,324.25 L834.25,322.58 L834.35,320.89 L834.46,319.19 L834.56,317.47 L834.67,315.75 L834.78,314.03 L834.88,312.31 L834.99,310.61 L835.09,308.93 L835.20,307.27 L835.30,305.64 L835.41,304.05 L835.51,302.51 L835.62,301.01 L835.72,299.56 L835.83,298.17 L835.93,296.84 L836.04,295.58 L836.15,294.40 L836.25,293.29 L836.36,292.26 L836.46,291.31 L836.57,290.45 L836.67,289.68 L836.78,289.00 L836.88,288.42 L836.99,287.94 L837.09,287.55 L837.20,287.27 L837.30,287.09 L837.41,287.00 L837.52,287.03 L837.62,287.15 L837.73,287.37 L837.83,287.70 L837.94,288.13 L838.04,288.65 L838.15,289.27 L838.25,289.99 L838.36,290.79 L838.46,291.69 L838.57,292.67 L838.67,293.73 L838.78,294.88 L838.89,296.09 L838.99,297.38 L839.10,298.73 L839.20,300.15 L839.31,301.62 L839.41,303.14 L839.52,304.70 L839.62,306.31 L839.73,307.95 L839.83,309.62 L839.94,311.31 L840.05,313.02 L840.15,314.73 L840.26,316.46 L840.36,318.18 L840.47,319.89 L840.57,321.59 L840.68,323.27 L840.78,324.92 L840.89,326.55 L840.99,328.13 L841.10,329.67 L841.20,331.17 L841.31,332.61 L841.42,333.99 L841.52,335.31 L841.63,336.56 L841.73,337.74 L841.84,338.84 L841.94,339.86 L842.05,340.80 L842.15,341.65 L842.26,342.40 L842.36,343.07 L842.47,343.64 L842.57,344.11 L842.68,344.49 L842.79,344.76 L842.89,344.93 L843.00,345.00 L843.10,344.97 L843.21,344.83 L843.31,344.59 L843.42,344.26 L843.52,343.82 L843.63,343.28 L843.73,342.65 L843.84,341.92 L843.94,341.11 L844.05,340.20 L844.16,339.21 L844.26,338.14 L844.37,336.98 L844.47,335.76 L844.58,334.46 L844.68,333.10 L844.79,331.68 L844.89,330.21 L845.00,328.68 L845.10,327.11 L845.21,325.50 L845.31,323.86 L845.42,322.18 L845.53,320.49 L845.63,318.78 L845.74,317.06 L845.84,315.34 L845.95,313.62 L846.05,311.91 L846.16,310.21 L846.26,308.54 L846.37,306.88 L846.47,305.27 L846.58,303.69 L846.68,302.15 L846.79,300.66 L846.90,299.23 L847.00,297.85 L847.11,296.54 L847.21,295.30 L847.32,294.13 L847.42,293.04 L847.53,292.03 L847.63,291.10 L847.74,290.26 L847.84,289.51 L847.95,288.86 L848.06,288.30 L848.16,287.84 L848.27,287.48 L848.37,287.22 L848.48,287.06 L848.58,287.00 L848.69,287.05 L848.79,287.19 L848.90,287.44 L849.00,287.79 L849.11,288.24 L849.21,288.79 L849.32,289.43 L849.43,290.17 L849.53,291.00 L849.64,291.91 L849.74,292.91 L849.85,294.00 L849.95,295.16 L850.06,296.39 L850.16,297.69 L850.27,299.06 L850.37,300.49 L850.48,301.97 L850.58,303.50 L850.69,305.08 L850.80,306.69 L850.90,308.34 L851.01,310.01 L851.11,311.71 L851.22,313.42 L851.32,315.14 L851.43,316.86 L851.53,318.58 L851.64,320.29 L851.74,321.99 L851.85,323.66 L851.95,325.31 L852.06,326.92 L852.17,328.50 L852.27,330.03 L852.38,331.51 L852.48,332.94 L852.59,334.31 L852.69,335.61 L852.80,336.84 L852.90,338.00 L853.01,339.09 L853.11,340.09 L853.22,341.00 L853.32,341.83 L853.43,342.57 L853.54,343.21 L853.64,343.76 L853.75,344.21 L853.85,344.56 L853.96,344.81 L854.06,344.95 L854.17,345.00 L854.27,344.94 L854.38,344.78 L854.48,344.52 L854.59,344.16 L854.69,343.70 L854.80,343.14 L854.91,342.49 L855.01,341.74 L855.12,340.90 L855.22,339.97 L855.33,338.96 L855.43,337.87 L855.54,336.70 L855.64,335.46 L855.75,334.15 L855.85,332.77 L855.96,331.34 L856.07,329.85 L856.17,328.31 L856.28,326.73 L856.38,325.12 L856.49,323.46 L856.59,321.79 L856.70,320.09 L856.80,318.38 L856.91,316.66 L857.01,314.94 L857.12,313.22 L857.22,311.51 L857.33,309.82 L857.44,308.14 L857.54,306.50 L857.65,304.89 L857.75,303.32 L857.86,301.79 L857.96,300.32 L858.07,298.90 L858.17,297.54 L858.28,296.24 L858.38,295.02 L858.49,293.86 L858.59,292.79 L858.70,291.80 L858.81,290.89 L858.91,290.08 L859.02,289.35 L859.12,288.72 L859.23,288.18 L859.33,287.74 L859.44,287.41 L859.54,287.17 L859.65,287.03 L859.75,287.00 L859.86,287.07 L859.96,287.24 L860.07,287.51 L860.18,287.89 L860.28,288.36 L860.39,288.93 L860.49,289.60 L860.60,290.35 L860.70,291.20 L860.81,292.14 L860.91,293.16 L861.02,294.26 L861.12,295.44 L861.23,296.69 L861.33,298.01 L861.44,299.39 L861.55,300.83 L861.65,302.33 L861.76,303.87 L861.86,305.45 L861.97,307.08 L862.07,308.73 L862.18,310.41 L862.28,312.11 L862.39,313.82 L862.49,315.54 L862.60,317.27 L862.70,318.98 L862.81,320.69 L862.92,322.38 L863.02,324.05 L863.13,325.69 L863.23,327.30 L863.34,328.86 L863.44,330.38 L863.55,331.85 L863.65,333.27 L863.76,334.62 L863.86,335.91 L863.97,337.12 L864.08,338.27 L864.18,339.33 L864.29,340.31 L864.39,341.21 L864.50,342.01 L864.60,342.73 L864.71,343.35 L864.81,343.87 L864.92,344.30 L865.02,344.63 L865.13,344.85 L865.23,344.97 L865.34,345.00 L865.45,344.91 L865.55,344.73 L865.66,344.45 L865.76,344.06 L865.87,343.58 L865.97,343.00 L866.08,342.32 L866.18,341.55 L866.29,340.69 L866.39,339.74 L866.50,338.71 L866.60,337.60 L866.71,336.42 L866.82,335.16 L866.92,333.83 L867.03,332.44 L867.13,330.99 L867.24,329.49 L867.34,327.95 L867.45,326.36 L867.55,324.73 L867.66,323.07 L867.76,321.39 L867.87,319.69 L867.97,317.97 L868.08,316.25 L868.19,314.53 L868.29,312.81 L868.40,311.11 L868.50,309.42 L868.61,307.75 L868.71,306.12 L868.82,304.52 L868.92,302.96 L869.03,301.44 L869.13,299.98 L869.24,298.57 L869.34,297.23 L869.45,295.95 L869.56,294.74 L869.66,293.60 L869.77,292.55 L869.87,291.58 L869.98,290.69 L870.08,289.90 L870.19,289.19 L870.29,288.58 L870.40,288.07 L870.50,287.66 L870.61,287.34 L870.71,287.13 L870.82,287.02 L870.93,287.01 L871.03,287.10 L871.14,287.30 L871.24,287.59 L871.35,287.99 L871.45,288.49 L871.56,289.08 L871.66,289.77 L871.77,290.55 L871.87,291.42 L871.98,292.37 L872.09,293.41 L872.19,294.53 L872.30,295.73 L872.40,297.00 L872.51,298.33 L872.61,299.73 L872.72,301.18 L872.82,302.69 L872.93,304.24 L873.03,305.83 L873.14,307.46 L873.24,309.12 L873.35,310.81 L873.46,312.51 L873.56,314.23 L873.67,315.95 L873.77,317.67 L873.88,319.39 L873.98,321.09 L874.09,322.78 L874.19,324.44 L874.30,326.07 L874.40,327.67 L874.51,329.22 L874.61,330.73 L874.72,332.19 L874.83,333.59 L874.93,334.93 L875.04,336.20 L875.14,337.40 L875.25,338.52 L875.35,339.57 L875.46,340.53 L875.56,341.41 L875.67,342.19 L875.77,342.88 L875.88,343.48 L875.98,343.98 L876.09,344.39 L876.20,344.69 L876.30,344.89 L876.41,344.99 L876.51,344.99 L876.62,344.88 L876.72,344.67 L876.83,344.36 L876.93,343.96 L877.04,343.45 L877.14,342.85 L877.25,342.15 L877.35,341.36 L877.46,340.48 L877.57,339.51 L877.67,338.46 L877.78,337.33 L877.88,336.13 L877.99,334.85 L878.09,333.51 L878.20,332.11 L878.30,330.65 L878.41,329.13 L878.51,327.58 L878.62,325.98 L878.72,324.34 L878.83,322.68 L878.94,320.99 L879.04,319.29 L879.15,317.57 L879.25,315.85 L879.36,314.13 L879.46,312.41 L879.57,310.71 L879.67,309.03 L879.78,307.37 L879.88,305.74 L879.99,304.15 L880.10,302.60 L880.20,301.09 L880.31,299.64 L880.41,298.25 L880.52,296.92 L880.62,295.66 L880.73,294.46 L880.83,293.35 L880.94,292.31 L881.04,291.36 L881.15,290.50 L881.25,289.72 L881.36,289.04 L881.47,288.45 L881.57,287.96 L881.68,287.57 L881.78,287.28 L881.89,287.09 L881.99,287.01 L882.10,287.02 L882.20,287.14 L882.31,287.36 L882.41,287.68 L882.52,288.10 L882.62,288.62 L882.73,289.23 L882.84,289.94 L882.94,290.74 L883.05,291.63 L883.15,292.61 L883.26,293.67 L883.36,294.81 L883.47,296.02 L883.57,297.30 L883.68,298.65 L883.78,300.06 L883.89,301.53 L883.99,303.05 L884.10,304.61 L884.21,306.21 L884.31,307.85 L884.42,309.52 L884.52,311.21 L884.63,312.91 L884.73,314.63 L884.84,316.35 L884.94,318.08 L885.05,319.79 L885.15,321.49 L885.26,323.17 L885.36,324.83 L885.47,326.45 L885.58,328.04 L885.68,329.58 L885.79,331.08 L885.89,332.53 L886.00,333.91 L886.10,335.23 L886.21,336.49 L886.31,337.67 L886.42,338.78 L886.52,339.80 L886.63,340.74 L886.73,341.60 L886.84,342.36 L886.95,343.03 L887.05,343.61 L887.16,344.09 L887.26,344.47 L887.37,344.74 L887.47,344.92 L887.58,345.00 L887.68,344.97 L887.79,344.84 L887.89,344.61 L888.00,344.28 L888.11,343.85 L888.21,343.32 L888.32,342.69 L888.42,341.97 L888.53,341.16 L888.63,340.26 L888.74,339.27 L888.84,338.20 L888.95,337.05 L889.05,335.83 L889.16,334.54 L889.26,333.18 L889.37,331.77 L889.48,330.29 L889.58,328.77 L889.69,327.20 L889.79,325.60 L889.90,323.95 L890.00,322.28 L890.11,320.59 L890.21,318.88 L890.32,317.17 L890.42,315.44 L890.53,313.72 L890.63,312.01 L890.74,310.31 L890.85,308.63 L890.95,306.98 L891.06,305.36 L891.16,303.78 L891.27,302.24 L891.37,300.75 L891.48,299.31 L891.58,297.93 L891.69,296.62 L891.79,295.37 L891.90,294.20 L892.00,293.10 L892.11,292.08 L892.22,291.15 L892.32,290.31 L892.43,289.55 L892.53,288.89 L892.64,288.33 L892.74,287.86 L892.85,287.50 L892.95,287.23 L893.06,287.06 L893.16,287.00 L893.27,287.04 L893.37,287.18 L893.48,287.42 L893.59,287.77 L893.69,288.21 L893.80,288.75 L893.90,289.39 L894.01,290.12 L894.11,290.94 L894.22,291.86 L894.32,292.85 L894.43,293.93 L894.53,295.09 L894.64,296.32 L894.74,297.61 L894.85,298.98 L894.96,300.40 L895.06,301.88 L895.17,303.41 L895.27,304.98 L895.38,306.60 L895.48,308.24 L895.59,309.91 L895.69,311.61 L895.80,313.32 L895.90,315.04 L896.01,316.76 L896.12,318.48 L896.22,320.19 L896.33,321.89 L896.43,323.56 L896.54,325.21 L896.64,326.83 L896.75,328.41 L896.85,329.94 L896.96,331.43 L897.06,332.86 L897.17,334.23 L897.27,335.53 L897.38,336.77 L897.49,337.94 L897.59,339.03 L897.70,340.03 L897.80,340.95 L897.91,341.79 L898.01,342.53 L898.12,343.18 L898.22,343.73 L898.33,344.19 L898.43,344.54 L898.54,344.80 L898.64,344.95 L898.75,345.00" stroke="#1c1c1c" stroke-width="2.0" fill="none" stroke-linejoin="round"/>
<circle cx="772" cy="345.6" r="2.2" fill="#1c1c1c"/>
<circle cx="784.4" cy="345.6" r="2.2" fill="#1c1c1c"/>
<circle cx="795.6" cy="345.6" r="2.2" fill="#1c1c1c"/>
<path d="M634,263H670M638,260L634,263L638,266M666,260L670,263L666,266" stroke="#9a9a9a" stroke-width="1" fill="none"/>
<path d="M539,378H632M543.5,374.5L539,378L543.5,381.5M627.5,374.5L632,378L627.5,381.5" stroke="#9a9a9a" stroke-width="1" fill="none"/>
<path d="M632.5,171V191M629.5,175L632.5,170.5L635.5,175M629.5,187.5L632.5,192L635.5,187.5" stroke="#9a9a9a" stroke-width="1" fill="none"/>
<g font-family="'Liberation Sans',sans-serif" font-size="17.2" fill="#1c1c1c" stroke="#1c1c1c" stroke-width="0.25">
<text x="922.5" y="255.5" text-anchor="end" font-size="17.7">Time (s)</text>
<text x="922.5" y="375" text-anchor="end" font-size="17.7">Time (s)</text>
<text x="578.75" y="275" text-anchor="middle" font-size="16.9">S1</text>
<text x="714.8" y="274.5" text-anchor="middle" font-size="16.9">S2</text>
<text x="853" y="274.5" text-anchor="middle" font-size="16.9">SN</text>
<text x="698" y="256" text-anchor="middle">(a)</text>
<text x="703" y="381.5" text-anchor="middle">(b)</text>
<text x="585" y="372.5" text-anchor="middle">T</text>
<text x="653" y="258.5" text-anchor="middle">Δt</text>
<text transform="translate(628.2,180.5) rotate(-90)" text-anchor="middle" font-size="17.3">Δf</text>
<text transform="translate(494.7,163) rotate(-90)" text-anchor="middle">Frequency</text>
<text transform="translate(518.7,196.25) rotate(-90)" text-anchor="middle">f1</text>
<text transform="translate(518.7,168.5) rotate(-90)" text-anchor="middle">f2</text>
<text transform="translate(518.7,158.3) rotate(-90)" text-anchor="middle">•</text>
<text transform="translate(518.7,145.8) rotate(-90)" text-anchor="middle">•</text>
<text transform="translate(518.7,135) rotate(-90)" text-anchor="middle">•</text>
<text transform="translate(518.7,123.75) rotate(-90)" text-anchor="middle">fN</text>
<text transform="translate(516,313) rotate(-90)" text-anchor="middle" font-size="17.4">Amplitude</text>
</g>
<path d="M60,557.5H370M281.25,521.3H413M281.25,594.5H413" stroke="#5e5e5e" stroke-width="1.25" fill="none"/>
<path d="M87.5,582V620.5M226.5,594V620.5M364.5,594V620.5" stroke="#5e5e5e" stroke-width="1.25" fill="none"/>
<path d="M60,642.2H487.5" stroke="#2a2a2a" stroke-width="1.9" fill="none"/>
<path d="M87.5,594.5L226.25,521.25M226.25,594L364.5,521.25" stroke="#1a1a1a" stroke-width="2.3" fill="none" stroke-linecap="butt"/>
<path d="M226.25,520.3V595.2M364.5,520.3V595.2" stroke="#1a1a1a" stroke-width="3" fill="none"/>
<path d="M364.5,594L379.25,583.75" stroke="#1a1a1a" stroke-width="2.3" fill="none"/>
<path d="M95,610.8H219" stroke="#5e5e5e" stroke-width="1.3" fill="none"/>
<path d="M87.8,610.8L98.5,606.7V614.9ZM226.2,610.8L215.5,606.7V614.9Z" fill="#1a1a1a"/>
<path d="M404.25,527V589" stroke="#5e5e5e" stroke-width="1.4" fill="none"/>
<path d="M404.25,521.6L399.7,529.6H408.8ZM404.25,594.2L399.7,586.2H408.8Z" fill="#1a1a1a"/>
<ellipse cx="459.2" cy="557.4" rx="4.2" ry="3.7" fill="#1a1a1a"/>
<ellipse cx="470.7" cy="557.4" rx="4.2" ry="3.7" fill="#1a1a1a"/>
<ellipse cx="482.4" cy="557.4" rx="4.2" ry="3.7" fill="#1a1a1a"/>
<text transform="translate(154.4,631.5) scale(1.18,1)" text-anchor="middle" font-family="'Liberation Serif',serif" font-size="19.8" font-style="italic" fill="#1a1a1a">T</text>
<text transform="translate(418.7,560.7) scale(1.25,1)" text-anchor="middle" font-family="'Liberation Serif',serif" font-size="16.6" font-style="italic" fill="#1a1a1a">B</text>
<text transform="translate(247.7,669.3) scale(1.21,1)" text-anchor="middle" font-family="'Liberation Serif',serif" font-size="19.3" fill="#1a1a1a">(a)</text>
<path d="M524,641.7H903" stroke="#2a2a2a" stroke-width="2" fill="none"/>
<path d="M548.3,474V634.4M672,474V634.4M794.7,474V634.4" stroke="#505050" stroke-width="1.15" fill="none"/>
<path d="M548.30,550.36 L548.38,550.06 L548.47,549.76 L548.55,549.46 L548.63,549.15 L548.71,548.84 L548.80,548.53 L548.88,548.21 L548.96,547.90 L549.04,547.58 L549.13,547.25 L549.21,546.92 L549.29,546.59 L549.37,546.26 L549.46,545.92 L549.54,545.58 L549.62,545.24 L549.70,544.90 L549.79,544.55 L549.87,544.20 L549.95,543.85 L550.03,543.49 L550.12,543.13 L550.20,542.77 L550.28,542.41 L550.36,542.04 L550.45,541.67 L550.53,541.30 L550.61,540.92 L550.69,540.55 L550.78,540.17 L550.86,539.79 L550.94,539.40 L551.02,539.02 L551.11,538.63 L551.19,538.24 L551.27,537.84 L551.35,537.45 L551.44,537.05 L551.52,536.65 L551.60,536.25 L551.68,535.84 L551.77,535.44 L551.85,535.03 L551.93,534.62 L552.01,534.21 L552.10,533.79 L552.18,533.38 L552.26,532.96 L552.34,532.54 L552.43,532.12 L552.51,531.70 L552.59,531.27 L552.67,530.85 L552.76,530.42 L552.84,530.00 L552.92,529.57 L553.00,529.14 L553.09,528.71 L553.17,528.27 L553.25,527.84 L553.33,527.41 L553.42,526.97 L553.50,526.54 L553.58,526.10 L553.66,525.66 L553.75,525.23 L553.83,524.79 L553.91,524.35 L553.99,523.91 L554.08,523.47 L554.16,523.03 L554.24,522.60 L554.32,522.16 L554.41,521.72 L554.49,521.28 L554.57,520.84 L554.65,520.40 L554.74,519.97 L554.82,519.53 L554.90,519.09 L554.98,518.66 L555.07,518.22 L555.15,517.79 L555.23,517.36 L555.31,516.92 L555.40,516.49 L555.48,516.07 L555.56,515.64 L555.64,515.21 L555.73,514.79 L555.81,514.37 L555.89,513.95 L555.97,513.53 L556.06,513.11 L556.14,512.70 L556.22,512.29 L556.30,511.88 L556.39,511.47 L556.47,511.07 L556.55,510.67 L556.63,510.27 L556.72,509.87 L556.80,509.48 L556.88,509.09 L556.96,508.71 L557.05,508.33 L557.13,507.95 L557.21,507.58 L557.29,507.21 L557.38,506.84 L557.46,506.48 L557.54,506.13 L557.62,505.77 L557.71,505.43 L557.79,505.08 L557.87,504.75 L557.96,504.41 L558.04,504.09 L558.12,503.77 L558.20,503.45 L558.29,503.14 L558.37,502.83 L558.45,502.54 L558.53,502.24 L558.62,501.96 L558.70,501.68 L558.78,501.40 L558.86,501.14 L558.95,500.88 L559.03,500.62 L559.11,500.38 L559.19,500.14 L559.28,499.91 L559.36,499.69 L559.44,499.47 L559.52,499.26 L559.61,499.06 L559.69,498.87 L559.77,498.69 L559.85,498.52 L559.94,498.35 L560.02,498.19 L560.10,498.05 L560.18,497.91 L560.27,497.78 L560.35,497.66 L560.43,497.55 L560.51,497.45 L560.60,497.36 L560.68,497.27 L560.76,497.20 L560.84,497.14 L560.93,497.09 L561.01,497.05 L561.09,497.02 L561.17,497.01 L561.26,497.00 L561.34,497.00 L561.42,497.02 L561.50,497.05 L561.59,497.09 L561.67,497.14 L561.75,497.20 L561.83,497.27 L561.92,497.36 L562.00,497.45 L562.08,497.56 L562.16,497.69 L562.25,497.82 L562.33,497.97 L562.41,498.13 L562.49,498.30 L562.58,498.49 L562.66,498.69 L562.74,498.90 L562.82,499.13 L562.91,499.37 L562.99,499.62 L563.07,499.89 L563.15,500.17 L563.24,500.46 L563.32,500.77 L563.40,501.09 L563.48,501.42 L563.57,501.77 L563.65,502.13 L563.73,502.51 L563.81,502.90 L563.90,503.31 L563.98,503.73 L564.06,504.16 L564.14,504.61 L564.23,505.07 L564.31,505.55 L564.39,506.04 L564.47,506.54 L564.56,507.06 L564.64,507.60 L564.72,508.15 L564.80,508.71 L564.89,509.29 L564.97,509.88 L565.05,510.48 L565.13,511.10 L565.22,511.74 L565.30,512.39 L565.38,513.05 L565.46,513.73 L565.55,514.42 L565.63,515.12 L565.71,515.84 L565.79,516.57 L565.88,517.32 L565.96,518.08 L566.04,518.85 L566.12,519.64 L566.21,520.44 L566.29,521.25 L566.37,522.08 L566.45,522.92 L566.54,523.77 L566.62,524.64 L566.70,525.51 L566.78,526.40 L566.87,527.31 L566.95,528.22 L567.03,529.14 L567.11,530.08 L567.20,531.03 L567.28,531.99 L567.36,532.96 L567.45,533.94 L567.53,534.93 L567.61,535.93 L567.69,536.94 L567.78,537.96 L567.86,538.99 L567.94,540.03 L568.02,541.08 L568.11,542.14 L568.19,543.20 L568.27,544.28 L568.35,545.36 L568.44,546.45 L568.52,547.54 L568.60,548.64 L568.68,549.75 L568.77,550.86 L568.85,551.98 L568.93,553.11 L569.01,554.24 L569.10,555.37 L569.18,556.51 L569.26,557.65 L569.34,558.80 L569.43,559.94 L569.51,561.09 L569.59,562.24 L569.67,563.40 L569.76,564.55 L569.84,565.71 L569.92,566.86 L570.00,568.02 L570.09,569.17 L570.17,570.33 L570.25,571.48 L570.33,572.63 L570.42,573.78 L570.50,574.92 L570.58,576.06 L570.66,577.19 L570.75,578.33 L570.83,579.45 L570.91,580.57 L570.99,581.69 L571.08,582.79 L571.16,583.89 L571.24,584.99 L571.32,586.07 L571.41,587.15 L571.49,588.21 L571.57,589.27 L571.65,590.31 L571.74,591.35 L571.82,592.37 L571.90,593.38 L571.98,594.38 L572.07,595.36 L572.15,596.33 L572.23,597.29 L572.31,598.23 L572.40,599.15 L572.48,600.06 L572.56,600.95 L572.64,601.83 L572.73,602.69 L572.81,603.53 L572.89,604.35 L572.97,605.15 L573.06,605.93 L573.14,606.69 L573.22,607.44 L573.30,608.15 L573.39,608.85 L573.47,609.53 L573.55,610.18 L573.63,610.81 L573.72,611.41 L573.80,611.99 L573.88,612.55 L573.96,613.08 L574.05,613.58 L574.13,614.06 L574.21,614.51 L574.29,614.93 L574.38,615.33 L574.46,615.70 L574.54,616.04 L574.62,616.35 L574.71,616.63 L574.79,616.88 L574.87,617.10 L574.95,617.30 L575.04,617.46 L575.12,617.59 L575.20,617.69 L575.28,617.76 L575.37,617.79 L575.45,617.80 L575.53,617.77 L575.61,617.71 L575.70,617.62 L575.78,617.49 L575.86,617.34 L575.94,617.14 L576.03,616.92 L576.11,616.66 L576.19,616.37 L576.27,616.05 L576.36,615.69 L576.44,615.30 L576.52,614.87 L576.60,614.41 L576.69,613.92 L576.77,613.40 L576.85,612.84 L576.94,612.25 L577.02,611.62 L577.10,610.96 L577.18,610.27 L577.27,609.55 L577.35,608.79 L577.43,608.00 L577.51,607.18 L577.60,606.33 L577.68,605.45 L577.76,604.54 L577.84,603.59 L577.93,602.62 L578.01,601.61 L578.09,600.58 L578.17,599.51 L578.26,598.42 L578.34,597.30 L578.42,596.16 L578.50,594.98 L578.59,593.78 L578.67,592.56 L578.75,591.31 L578.83,590.03 L578.92,588.73 L579.00,587.41 L579.08,586.06 L579.16,584.70 L579.25,583.31 L579.33,581.91 L579.41,580.48 L579.49,579.04 L579.58,577.57 L579.66,576.10 L579.74,574.60 L579.82,573.09 L579.91,571.57 L579.99,570.04 L580.07,568.49 L580.15,566.93 L580.24,565.36 L580.32,563.79 L580.40,562.20 L580.48,560.61 L580.57,559.01 L580.65,557.41 L580.73,555.81 L580.81,554.20 L580.90,552.59 L580.98,550.99 L581.06,549.38 L581.14,547.78 L581.23,546.18 L581.31,544.58 L581.39,542.99 L581.47,541.41 L581.56,539.84 L581.64,538.27 L581.72,536.72 L581.80,535.18 L581.89,533.65 L581.97,532.14 L582.05,530.64 L582.13,529.16 L582.22,527.70 L582.30,526.26 L582.38,524.84 L582.46,523.45 L582.55,522.07 L582.63,520.72 L582.71,519.40 L582.79,518.10 L582.88,516.83 L582.96,515.59 L583.04,514.38 L583.12,513.21 L583.21,512.06 L583.29,510.95 L583.37,509.88 L583.45,508.84 L583.54,507.84 L583.62,506.87 L583.70,505.95 L583.78,505.07 L583.87,504.22 L583.95,503.42 L584.03,502.66 L584.11,501.95 L584.20,501.28 L584.28,500.66 L584.36,500.08 L584.44,499.55 L584.53,499.07 L584.61,498.64 L584.69,498.26 L584.77,497.92 L584.86,497.64 L584.94,497.41 L585.02,497.23 L585.10,497.10 L585.19,497.02 L585.27,497.00 L585.35,497.03 L585.43,497.11 L585.52,497.25 L585.60,497.44 L585.68,497.68 L585.76,497.98 L585.85,498.33 L585.93,498.74 L586.01,499.20 L586.09,499.71 L586.18,500.28 L586.26,500.90 L586.34,501.57 L586.43,502.29 L586.51,503.07 L586.59,503.90 L586.67,504.78 L586.76,505.71 L586.84,506.70 L586.92,507.73 L587.00,508.81 L587.09,509.94 L587.17,511.11 L587.25,512.33 L587.33,513.60 L587.42,514.91 L587.50,516.27 L587.58,517.67 L587.66,519.10 L587.75,520.58 L587.83,522.10 L587.91,523.65 L587.99,525.24 L588.08,526.87 L588.16,528.53 L588.24,530.22 L588.32,531.94 L588.41,533.68 L588.49,535.46 L588.57,537.26 L588.65,539.08 L588.74,540.93 L588.82,542.80 L588.90,544.68 L588.98,546.58 L589.07,548.50 L589.15,550.42 L589.23,552.36 L589.31,554.31 L589.40,556.26 L589.48,558.22 L589.56,560.18 L589.64,562.14 L589.73,564.10 L589.81,566.05 L589.89,568.00 L589.97,569.94 L590.06,571.87 L590.14,573.79 L590.22,575.70 L590.30,577.58 L590.39,579.45 L590.47,581.30 L590.55,583.12 L590.63,584.92 L590.72,586.69 L590.80,588.44 L590.88,590.15 L590.96,591.82 L591.05,593.46 L591.13,595.07 L591.21,596.63 L591.29,598.15 L591.38,599.63 L591.46,601.06 L591.54,602.45 L591.62,603.78 L591.71,605.07 L591.79,606.30 L591.87,607.48 L591.95,608.60 L592.04,609.66 L592.12,610.67 L592.20,611.61 L592.28,612.49 L592.37,613.31 L592.45,614.06 L592.53,614.75 L592.61,615.37 L592.70,615.92 L592.78,616.40 L592.86,616.81 L592.94,617.16 L593.03,617.43 L593.11,617.62 L593.19,617.75 L593.27,617.80 L593.36,617.78 L593.44,617.68 L593.52,617.51 L593.60,617.26 L593.69,616.94 L593.77,616.55 L593.85,616.08 L593.93,615.53 L594.02,614.91 L594.10,614.22 L594.18,613.46 L594.26,612.62 L594.35,611.72 L594.43,610.74 L594.51,609.69 L594.59,608.57 L594.68,607.39 L594.76,606.14 L594.84,604.82 L594.92,603.45 L595.01,602.00 L595.09,600.50 L595.17,598.94 L595.25,597.32 L595.34,595.65 L595.42,593.93 L595.50,592.15 L595.58,590.32 L595.67,588.45 L595.75,586.54 L595.83,584.58 L595.92,582.58 L596.00,580.54 L596.08,578.47 L596.16,576.37 L596.25,574.24 L596.33,572.09 L596.41,569.91 L596.49,567.71 L596.58,565.49 L596.66,563.26 L596.74,561.01 L596.82,558.76 L596.91,556.50 L596.99,554.24 L597.07,551.98 L597.15,549.73 L597.24,547.48 L597.32,545.25 L597.40,543.03 L597.48,540.82 L597.57,538.64 L597.65,536.48 L597.73,534.34 L597.81,532.24 L597.90,530.17 L597.98,528.14 L598.06,526.14 L598.14,524.19 L598.23,522.29 L598.31,520.43 L598.39,518.63 L598.47,516.88 L598.56,515.18 L598.64,513.55 L598.72,511.98 L598.80,510.48 L598.89,509.04 L598.97,507.67 L599.05,506.38 L599.13,505.16 L599.22,504.02 L599.30,502.96 L599.38,501.98 L599.46,501.09 L599.55,500.27 L599.63,499.55 L599.71,498.91 L599.79,498.37 L599.88,497.91 L599.96,497.54 L600.04,497.27 L600.12,497.09 L600.21,497.01 L600.29,497.02 L600.37,497.12 L600.45,497.32 L600.54,497.62 L600.62,498.01 L600.70,498.49 L600.78,499.08 L600.87,499.75 L600.95,500.52 L601.03,501.38 L601.11,502.33 L601.20,503.37 L601.28,504.51 L601.36,505.73 L601.44,507.03 L601.53,508.42 L601.61,509.89 L601.69,511.45 L601.77,513.08 L601.86,514.78 L601.94,516.56 L602.02,518.41 L602.10,520.32 L602.19,522.31 L602.27,524.35 L602.35,526.45 L602.43,528.60 L602.52,530.81 L602.60,533.07 L602.68,535.37 L602.76,537.71 L602.85,540.08 L602.93,542.49 L603.01,544.93 L603.09,547.40 L603.18,549.88 L603.26,552.38 L603.34,554.89 L603.42,557.41 L603.51,559.94 L603.59,562.46 L603.67,564.97 L603.75,567.48 L603.84,569.97 L603.92,572.45 L604.00,574.90 L604.08,577.32 L604.17,579.71 L604.25,582.06 L604.33,584.37 L604.41,586.64 L604.50,588.85 L604.58,591.02 L604.66,593.12 L604.74,595.16 L604.83,597.14 L604.91,599.05 L604.99,600.88 L605.07,602.63 L605.16,604.31 L605.24,605.90 L605.32,607.40 L605.41,608.81 L605.49,610.13 L605.57,611.35 L605.65,612.48 L605.74,613.50 L605.82,614.41 L605.90,615.23 L605.98,615.93 L606.07,616.52 L606.15,617.00 L606.23,617.37 L606.31,617.63 L606.40,617.77 L606.48,617.80 L606.56,617.71 L606.64,617.50 L606.73,617.18 L606.81,616.74 L606.89,616.18 L606.97,615.51 L607.06,614.73 L607.14,613.83 L607.22,612.83 L607.30,611.71 L607.39,610.48 L607.47,609.15 L607.55,607.71 L607.63,606.17 L607.72,604.54 L607.80,602.80 L607.88,600.98 L607.96,599.06 L608.05,597.06 L608.13,594.98 L608.21,592.82 L608.29,590.58 L608.38,588.28 L608.46,585.90 L608.54,583.47 L608.62,580.98 L608.71,578.44 L608.79,575.86 L608.87,573.23 L608.95,570.56 L609.04,567.87 L609.12,565.15 L609.20,562.41 L609.28,559.66 L609.37,556.90 L609.45,554.14 L609.53,551.38 L609.61,548.63 L609.70,545.90 L609.78,543.18 L609.86,540.50 L609.94,537.84 L610.03,535.23 L610.11,532.66 L610.19,530.14 L610.27,527.67 L610.36,525.27 L610.44,522.93 L610.52,520.66 L610.60,518.47 L610.69,516.36 L610.77,514.34 L610.85,512.41 L610.93,510.58 L611.02,508.84 L611.10,507.21 L611.18,505.69 L611.26,504.28 L611.35,502.99 L611.43,501.82 L611.51,500.76 L611.59,499.84 L611.68,499.04 L611.76,498.37 L611.84,497.83 L611.92,497.42 L612.01,497.15 L612.09,497.02 L612.17,497.02 L612.25,497.16 L612.34,497.43 L612.42,497.84 L612.50,498.39 L612.58,499.07 L612.67,499.89 L612.75,500.84 L612.83,501.93 L612.91,503.14 L613.00,504.48 L613.08,505.94 L613.16,507.53 L613.24,509.23 L613.33,511.05 L613.41,512.98 L613.49,515.01 L613.57,517.15 L613.66,519.38 L613.74,521.71 L613.82,524.12 L613.90,526.62 L613.99,529.19 L614.07,531.83 L614.15,534.53 L614.23,537.30 L614.32,540.11 L614.40,542.97 L614.48,545.87 L614.56,548.80 L614.65,551.75 L614.73,554.72 L614.81,557.70 L614.89,560.68 L614.98,563.66 L615.06,566.62 L615.14,569.57 L615.23,572.49 L615.31,575.37 L615.39,578.22 L615.47,581.01 L615.56,583.75 L615.64,586.43 L615.72,589.04 L615.80,591.57 L615.89,594.02 L615.97,596.38 L616.05,598.65 L616.13,600.81 L616.22,602.87 L616.30,604.81 L616.38,606.63 L616.46,608.33 L616.55,609.91 L616.63,611.35 L616.71,612.65 L616.79,613.82 L616.88,614.84 L616.96,615.71 L617.04,616.44 L617.12,617.01 L617.21,617.43 L617.29,617.69 L617.37,617.80 L617.45,617.75 L617.54,617.54 L617.62,617.17 L617.70,616.64 L617.78,615.96 L617.87,615.13 L617.95,614.14 L618.03,613.00 L618.11,611.71 L618.20,610.27 L618.28,608.69 L618.36,606.97 L618.44,605.12 L618.53,603.14 L618.61,601.03 L618.69,598.81 L618.77,596.47 L618.86,594.02 L618.94,591.46 L619.02,588.82 L619.10,586.08 L619.19,583.27 L619.27,580.38 L619.35,577.42 L619.43,574.41 L619.52,571.34 L619.60,568.24 L619.68,565.10 L619.76,561.94 L619.85,558.76 L619.93,555.57 L620.01,552.39 L620.09,549.21 L620.18,546.06 L620.26,542.93 L620.34,539.84 L620.42,536.80 L620.51,533.81 L620.59,530.89 L620.67,528.04 L620.75,525.27 L620.84,522.59 L620.92,520.00 L621.00,517.52 L621.08,515.15 L621.17,512.90 L621.25,510.77 L621.33,508.78 L621.41,506.92 L621.50,505.21 L621.58,503.65 L621.66,502.24 L621.74,501.00 L621.83,499.91 L621.91,498.99 L621.99,498.25 L622.07,497.67 L622.16,497.27 L622.24,497.05 L622.32,497.01 L622.40,497.14 L622.49,497.45 L622.57,497.94 L622.65,498.61 L622.73,499.46 L622.82,500.48 L622.90,501.67 L622.98,503.02 L623.06,504.55 L623.15,506.23 L623.23,508.07 L623.31,510.06 L623.39,512.20 L623.48,514.48 L623.56,516.89 L623.64,519.42 L623.72,522.08 L623.81,524.84 L623.89,527.71 L623.97,530.67 L624.05,533.72 L624.14,536.84 L624.22,540.03 L624.30,543.28 L624.38,546.57 L624.47,549.90 L624.55,553.26 L624.63,556.63 L624.72,560.01 L624.80,563.38 L624.88,566.74 L624.96,570.08 L625.05,573.37 L625.13,576.62 L625.21,579.81 L625.29,582.93 L625.38,585.98 L625.46,588.94 L625.54,591.80 L625.62,594.55 L625.71,597.18 L625.79,599.69 L625.87,602.07 L625.95,604.31 L626.04,606.39 L626.12,608.32 L626.20,610.09 L626.28,611.69 L626.37,613.11 L626.45,614.35 L626.53,615.41 L626.61,616.27 L626.70,616.95 L626.78,617.43 L626.86,617.71 L626.94,617.80 L627.03,617.69 L627.11,617.37 L627.19,616.86 L627.27,616.15 L627.36,615.24 L627.44,614.14 L627.52,612.84 L627.60,611.37 L627.69,609.70 L627.77,607.87 L627.85,605.85 L627.93,603.68 L628.02,601.34 L628.10,598.86 L628.18,596.23 L628.26,593.47 L628.35,590.58 L628.43,587.57 L628.51,584.46 L628.59,581.26 L628.68,577.96 L628.76,574.60 L628.84,571.17 L628.92,567.69 L629.01,564.18 L629.09,560.63 L629.17,557.08 L629.25,553.51 L629.34,549.96 L629.42,546.44 L629.50,542.94 L629.58,539.50 L629.67,536.11 L629.75,532.80 L629.83,529.57 L629.91,526.43 L630.00,523.41 L630.08,520.49 L630.16,517.71 L630.24,515.07 L630.33,512.57 L630.41,510.24 L630.49,508.06 L630.57,506.07 L630.66,504.25 L630.74,502.63 L630.82,501.20 L630.90,499.97 L630.99,498.95 L631.07,498.14 L631.15,497.54 L631.23,497.17 L631.32,497.01 L631.40,497.07 L631.48,497.35 L631.56,497.85 L631.65,498.57 L631.73,499.51 L631.81,500.66 L631.89,502.02 L631.98,503.58 L632.06,505.35 L632.14,507.31 L632.22,509.47 L632.31,511.80 L632.39,514.30 L632.47,516.97 L632.55,519.79 L632.64,522.75 L632.72,525.84 L632.80,529.06 L632.88,532.39 L632.97,535.82 L633.05,539.32 L633.13,542.91 L633.21,546.55 L633.30,550.23 L633.38,553.94 L633.46,557.68 L633.54,561.41 L633.63,565.13 L633.71,568.83 L633.79,572.48 L633.87,576.08 L633.96,579.61 L634.04,583.06 L634.12,586.41 L634.21,589.65 L634.29,592.77 L634.37,595.76 L634.45,598.59 L634.54,601.27 L634.62,603.78 L634.70,606.11 L634.78,608.26 L634.87,610.20 L634.95,611.94 L635.03,613.46 L635.11,614.76 L635.20,615.84 L635.28,616.68 L635.36,617.29 L635.44,617.67 L635.53,617.80 L635.61,617.69 L635.69,617.34 L635.77,616.75 L635.86,615.92 L635.94,614.85 L636.02,613.56 L636.10,612.03 L636.19,610.28 L636.27,608.32 L636.35,606.14 L636.43,603.77 L636.52,601.21 L636.60,598.46 L636.68,595.55 L636.76,592.47 L636.85,589.25 L636.93,585.90 L637.01,582.43 L637.09,578.85 L637.18,575.17 L637.26,571.43 L637.34,567.62 L637.42,563.76 L637.51,559.88 L637.59,555.98 L637.67,552.08 L637.75,548.20 L637.84,544.36 L637.92,540.57 L638.00,536.85 L638.08,533.21 L638.17,529.67 L638.25,526.24 L638.33,522.94 L638.41,519.79 L638.50,516.79 L638.58,513.96 L638.66,511.32 L638.74,508.87 L638.83,506.62 L638.91,504.59 L638.99,502.78 L639.07,501.21 L639.16,499.88 L639.24,498.79 L639.32,497.96 L639.40,497.38 L639.49,497.07 L639.57,497.01 L639.65,497.22 L639.73,497.69 L639.82,498.41 L639.90,499.40 L639.98,500.64 L640.06,502.13 L640.15,503.87 L640.23,505.84 L640.31,508.04 L640.39,510.46 L640.48,513.09 L640.56,515.92 L640.64,518.93 L640.72,522.12 L640.81,525.47 L640.89,528.96 L640.97,532.58 L641.05,536.32 L641.14,540.15 L641.22,544.06 L641.30,548.04 L641.38,552.06 L641.47,556.11 L641.55,560.17 L641.63,564.22 L641.71,568.24 L641.80,572.22 L641.88,576.13 L641.96,579.96 L642.04,583.69 L642.13,587.30 L642.21,590.78 L642.29,594.11 L642.37,597.27 L642.46,600.26 L642.54,603.04 L642.62,605.62 L642.70,607.98 L642.79,610.11 L642.87,611.99 L642.95,613.63 L643.03,615.00 L643.12,616.11 L643.20,616.94 L643.28,617.49 L643.36,617.77 L643.45,617.76 L643.53,617.47 L643.61,616.90 L643.70,616.04 L643.78,614.91 L643.86,613.51 L643.94,611.84 L644.03,609.91 L644.11,607.72 L644.19,605.30 L644.27,602.65 L644.36,599.78 L644.44,596.71 L644.52,593.44 L644.60,590.00 L644.69,586.40 L644.77,582.66 L644.85,578.80 L644.93,574.82 L645.02,570.76 L645.10,566.64 L645.18,562.46 L645.26,558.26 L645.35,554.05 L645.43,549.85 L645.51,545.68 L645.59,541.57 L645.68,537.54 L645.76,533.59 L645.84,529.77 L645.92,526.07 L646.01,522.53 L646.09,519.15 L646.17,515.96 L646.25,512.98 L646.34,510.21 L646.42,507.67 L646.50,505.38 L646.58,503.34 L646.67,501.58 L646.75,500.09 L646.83,498.88 L646.91,497.97 L647.00,497.36 L647.08,497.04 L647.16,497.03 L647.24,497.33 L647.33,497.93 L647.41,498.82 L647.49,500.02 L647.57,501.51 L647.66,503.28 L647.74,505.33 L647.82,507.65 L647.90,510.22 L647.99,513.03 L648.07,516.08 L648.15,519.34 L648.23,522.79 L648.32,526.43 L648.40,530.23 L648.48,534.17 L648.56,538.23 L648.65,542.40 L648.73,546.65 L648.81,550.96 L648.89,555.30 L648.98,559.66 L649.06,564.01 L649.14,568.33 L649.22,572.59 L649.31,576.78 L649.39,580.87 L649.47,584.84 L649.55,588.67 L649.64,592.34 L649.72,595.82 L649.80,599.11 L649.88,602.17 L649.97,605.00 L650.05,607.59 L650.13,609.90 L650.21,611.94 L650.30,613.69 L650.38,615.14 L650.46,616.28 L650.54,617.11 L650.63,617.61 L650.71,617.80 L650.79,617.66 L650.87,617.19 L650.96,616.40 L651.04,615.30 L651.12,613.87 L651.20,612.15 L651.29,610.12 L651.37,607.80 L651.45,605.21 L651.53,602.35 L651.62,599.25 L651.70,595.92 L651.78,592.37 L651.86,588.63 L651.95,584.71 L652.03,580.64 L652.11,576.44 L652.19,572.13 L652.28,567.74 L652.36,563.28 L652.44,558.79 L652.52,554.29 L652.61,549.81 L652.69,545.36 L652.77,540.97 L652.85,536.68 L652.94,532.49 L653.02,528.45 L653.10,524.56 L653.19,520.86 L653.27,517.35 L653.35,514.07 L653.43,511.04 L653.52,508.26 L653.60,505.76 L653.68,503.55 L653.76,501.64 L653.85,500.05 L653.93,498.78 L654.01,497.85 L654.09,497.26 L654.18,497.01 L654.26,497.10 L654.34,497.55 L654.42,498.33 L654.51,499.46 L654.59,500.92 L654.67,502.71 L654.75,504.81 L654.84,507.22 L654.92,509.93 L655.00,512.91 L655.08,516.15 L655.17,519.63 L655.25,523.34 L655.33,527.24 L655.41,531.33 L655.50,535.57 L655.58,539.94 L655.66,544.42 L655.74,548.98 L655.83,553.59 L655.91,558.23 L655.99,562.86 L656.07,567.47 L656.16,572.02 L656.24,576.48 L656.32,580.84 L656.40,585.06 L656.49,589.12 L656.57,592.99 L656.65,596.65 L656.73,600.08 L656.82,603.26 L656.90,606.17 L656.98,608.78 L657.06,611.09 L657.15,613.07 L657.23,614.72 L657.31,616.03 L657.39,616.98 L657.48,617.57 L657.56,617.80 L657.64,617.66 L657.72,617.15 L657.81,616.28 L657.89,615.05 L657.97,613.47 L658.05,611.54 L658.14,609.28 L658.22,606.70 L658.30,603.82 L658.38,600.65 L658.47,597.21 L658.55,593.52 L658.63,589.60 L658.71,585.49 L658.80,581.20 L658.88,576.75 L658.96,572.19 L659.04,567.52 L659.13,562.79 L659.21,558.03 L659.29,553.26 L659.37,548.51 L659.46,543.81 L659.54,539.19 L659.62,534.69 L659.70,530.33 L659.79,526.13 L659.87,522.13 L659.95,518.34 L660.03,514.81 L660.12,511.53 L660.20,508.55 L660.28,505.88 L660.36,503.53 L660.45,501.52 L660.53,499.87 L660.61,498.58 L660.69,497.67 L660.78,497.15 L660.86,497.00 L660.94,497.25 L661.02,497.88 L661.11,498.90 L661.19,500.29 L661.27,502.05 L661.35,504.18 L661.44,506.65 L661.52,509.44 L661.60,512.56 L661.68,515.96 L661.77,519.64 L661.85,523.57 L661.93,527.72 L662.01,532.07 L662.10,536.58 L662.18,541.24 L662.26,546.00 L662.34,550.85 L662.43,555.74 L662.51,560.64 L662.59,565.53 L662.68,570.36 L662.76,575.11 L662.84,579.75 L662.92,584.25 L663.01,588.56 L663.09,592.68 L663.17,596.56 L663.25,600.18 L663.34,603.52 L663.42,606.56 L663.50,609.26 L663.58,611.62 L663.67,613.62 L663.75,615.24 L663.83,616.47 L663.91,617.31 L664.00,617.74 L664.08,617.76 L664.16,617.37 L664.24,616.58 L664.33,615.39 L664.41,613.80 L664.49,611.82 L664.57,609.48 L664.66,606.77 L664.74,603.73 L664.82,600.37 L664.90,596.71 L664.99,592.78 L665.07,588.60 L665.15,584.21 L665.23,579.62 L665.32,574.89 L665.40,570.02 L665.48,565.07 L665.56,560.06 L665.65,555.03 L665.73,550.01 L665.81,545.04 L665.89,540.16 L665.98,535.39 L666.06,530.77 L666.14,526.33 L666.22,522.11 L666.31,518.13 L666.39,514.43 L666.47,511.03 L666.55,507.94 L666.64,505.21 L666.72,502.84 L666.80,500.86 L666.88,499.27 L666.97,498.10 L667.05,497.34 L667.13,497.02 L667.21,497.12 L667.30,497.65 L667.38,498.60 L667.46,499.98 L667.54,501.76 L667.63,503.95 L667.71,506.52 L667.79,509.46 L667.87,512.75 L667.96,516.35 L668.04,520.26 L668.12,524.43 L668.20,528.85 L668.29,533.48 L668.37,538.28 L668.45,543.22 L668.53,548.27 L668.62,553.39 L668.70,558.55 L668.78,563.69 L668.86,568.80 L668.95,573.82 L669.03,578.73 L669.11,583.49 L669.19,588.05 L669.28,592.40 L669.36,596.49 L669.44,600.29 L669.52,603.78 L669.61,606.93 L669.69,609.72 L669.77,612.12 L669.85,614.12 L669.94,615.69 L670.02,616.84 L670.10,617.54 L670.18,617.80 L670.27,617.60 L670.35,616.96 L670.43,615.87 L670.51,614.34 L670.60,612.39 L670.68,610.02 L670.76,607.25 L670.84,604.11 L670.93,600.61 L671.01,596.78 L671.09,592.66 L671.17,588.26 L671.26,583.63 L671.34,578.80 L671.42,573.80 L671.50,568.67 L671.59,563.46 L671.67,558.19 L671.75,552.92 L671.83,547.67 L671.92,542.50 L672.00,537.44" stroke="#1a1a1a" stroke-width="1.05" fill="none" stroke-linejoin="round"/>
<path d="M672.00,550.36 L672.08,550.06 L672.16,549.76 L672.25,549.46 L672.33,549.15 L672.41,548.84 L672.49,548.53 L672.57,548.21 L672.65,547.90 L672.74,547.58 L672.82,547.25 L672.90,546.92 L672.98,546.59 L673.06,546.26 L673.15,545.92 L673.23,545.58 L673.31,545.24 L673.39,544.90 L673.47,544.55 L673.56,544.20 L673.64,543.85 L673.72,543.49 L673.80,543.13 L673.88,542.77 L673.96,542.41 L674.05,542.04 L674.13,541.67 L674.21,541.30 L674.29,540.92 L674.37,540.55 L674.46,540.17 L674.54,539.79 L674.62,539.40 L674.70,539.02 L674.78,538.63 L674.86,538.24 L674.95,537.84 L675.03,537.45 L675.11,537.05 L675.19,536.65 L675.27,536.25 L675.36,535.84 L675.44,535.44 L675.52,535.03 L675.60,534.62 L675.68,534.21 L675.77,533.79 L675.85,533.38 L675.93,532.96 L676.01,532.54 L676.09,532.12 L676.17,531.70 L676.26,531.27 L676.34,530.85 L676.42,530.42 L676.50,530.00 L676.58,529.57 L676.67,529.14 L676.75,528.71 L676.83,528.27 L676.91,527.84 L676.99,527.41 L677.07,526.97 L677.16,526.54 L677.24,526.10 L677.32,525.66 L677.40,525.23 L677.48,524.79 L677.57,524.35 L677.65,523.91 L677.73,523.47 L677.81,523.03 L677.89,522.60 L677.98,522.16 L678.06,521.72 L678.14,521.28 L678.22,520.84 L678.30,520.40 L678.38,519.97 L678.47,519.53 L678.55,519.09 L678.63,518.66 L678.71,518.22 L678.79,517.79 L678.88,517.36 L678.96,516.92 L679.04,516.49 L679.12,516.07 L679.20,515.64 L679.29,515.21 L679.37,514.79 L679.45,514.37 L679.53,513.95 L679.61,513.53 L679.69,513.11 L679.78,512.70 L679.86,512.29 L679.94,511.88 L680.02,511.47 L680.10,511.07 L680.19,510.67 L680.27,510.27 L680.35,509.87 L680.43,509.48 L680.51,509.09 L680.59,508.71 L680.68,508.33 L680.76,507.95 L680.84,507.58 L680.92,507.21 L681.00,506.84 L681.09,506.48 L681.17,506.13 L681.25,505.77 L681.33,505.43 L681.41,505.08 L681.50,504.75 L681.58,504.41 L681.66,504.09 L681.74,503.77 L681.82,503.45 L681.90,503.14 L681.99,502.83 L682.07,502.54 L682.15,502.24 L682.23,501.96 L682.31,501.68 L682.40,501.40 L682.48,501.14 L682.56,500.88 L682.64,500.62 L682.72,500.38 L682.80,500.14 L682.89,499.91 L682.97,499.69 L683.05,499.47 L683.13,499.26 L683.21,499.06 L683.30,498.87 L683.38,498.69 L683.46,498.52 L683.54,498.35 L683.62,498.19 L683.71,498.05 L683.79,497.91 L683.87,497.78 L683.95,497.66 L684.03,497.55 L684.11,497.45 L684.20,497.36 L684.28,497.27 L684.36,497.20 L684.44,497.14 L684.52,497.09 L684.61,497.05 L684.69,497.02 L684.77,497.01 L684.85,497.00 L684.93,497.00 L685.01,497.02 L685.10,497.05 L685.18,497.09 L685.26,497.14 L685.34,497.20 L685.42,497.27 L685.51,497.36 L685.59,497.45 L685.67,497.56 L685.75,497.69 L685.83,497.82 L685.92,497.97 L686.00,498.13 L686.08,498.30 L686.16,498.49 L686.24,498.69 L686.32,498.90 L686.41,499.13 L686.49,499.37 L686.57,499.62 L686.65,499.89 L686.73,500.17 L686.82,500.46 L686.90,500.77 L686.98,501.09 L687.06,501.42 L687.14,501.77 L687.22,502.13 L687.31,502.51 L687.39,502.90 L687.47,503.31 L687.55,503.73 L687.63,504.16 L687.72,504.61 L687.80,505.07 L687.88,505.55 L687.96,506.04 L688.04,506.54 L688.13,507.06 L688.21,507.60 L688.29,508.15 L688.37,508.71 L688.45,509.29 L688.53,509.88 L688.62,510.48 L688.70,511.10 L688.78,511.74 L688.86,512.39 L688.94,513.05 L689.03,513.73 L689.11,514.42 L689.19,515.12 L689.27,515.84 L689.35,516.57 L689.44,517.32 L689.52,518.08 L689.60,518.85 L689.68,519.64 L689.76,520.44 L689.84,521.25 L689.93,522.08 L690.01,522.92 L690.09,523.77 L690.17,524.64 L690.25,525.51 L690.34,526.40 L690.42,527.31 L690.50,528.22 L690.58,529.14 L690.66,530.08 L690.74,531.03 L690.83,531.99 L690.91,532.96 L690.99,533.94 L691.07,534.93 L691.15,535.93 L691.24,536.94 L691.32,537.96 L691.40,538.99 L691.48,540.03 L691.56,541.08 L691.65,542.14 L691.73,543.20 L691.81,544.28 L691.89,545.36 L691.97,546.45 L692.05,547.54 L692.14,548.64 L692.22,549.75 L692.30,550.86 L692.38,551.98 L692.46,553.11 L692.55,554.24 L692.63,555.37 L692.71,556.51 L692.79,557.65 L692.87,558.80 L692.95,559.94 L693.04,561.09 L693.12,562.24 L693.20,563.40 L693.28,564.55 L693.36,565.71 L693.45,566.86 L693.53,568.02 L693.61,569.17 L693.69,570.33 L693.77,571.48 L693.86,572.63 L693.94,573.78 L694.02,574.92 L694.10,576.06 L694.18,577.19 L694.26,578.33 L694.35,579.45 L694.43,580.57 L694.51,581.69 L694.59,582.79 L694.67,583.89 L694.76,584.99 L694.84,586.07 L694.92,587.15 L695.00,588.21 L695.08,589.27 L695.16,590.31 L695.25,591.35 L695.33,592.37 L695.41,593.38 L695.49,594.38 L695.57,595.36 L695.66,596.33 L695.74,597.29 L695.82,598.23 L695.90,599.15 L695.98,600.06 L696.07,600.95 L696.15,601.83 L696.23,602.69 L696.31,603.53 L696.39,604.35 L696.47,605.15 L696.56,605.93 L696.64,606.69 L696.72,607.44 L696.80,608.15 L696.88,608.85 L696.97,609.53 L697.05,610.18 L697.13,610.81 L697.21,611.41 L697.29,611.99 L697.37,612.55 L697.46,613.08 L697.54,613.58 L697.62,614.06 L697.70,614.51 L697.78,614.93 L697.87,615.33 L697.95,615.70 L698.03,616.04 L698.11,616.35 L698.19,616.63 L698.28,616.88 L698.36,617.10 L698.44,617.30 L698.52,617.46 L698.60,617.59 L698.68,617.69 L698.77,617.76 L698.85,617.79 L698.93,617.80 L699.01,617.77 L699.09,617.71 L699.18,617.62 L699.26,617.49 L699.34,617.34 L699.42,617.14 L699.50,616.92 L699.58,616.66 L699.67,616.37 L699.75,616.05 L699.83,615.69 L699.91,615.30 L699.99,614.87 L700.08,614.41 L700.16,613.92 L700.24,613.40 L700.32,612.84 L700.40,612.25 L700.49,611.62 L700.57,610.96 L700.65,610.27 L700.73,609.55 L700.81,608.79 L700.89,608.00 L700.98,607.18 L701.06,606.33 L701.14,605.45 L701.22,604.54 L701.30,603.59 L701.39,602.62 L701.47,601.61 L701.55,600.58 L701.63,599.51 L701.71,598.42 L701.80,597.30 L701.88,596.16 L701.96,594.98 L702.04,593.78 L702.12,592.56 L702.20,591.31 L702.29,590.03 L702.37,588.73 L702.45,587.41 L702.53,586.06 L702.61,584.70 L702.70,583.31 L702.78,581.91 L702.86,580.48 L702.94,579.04 L703.02,577.57 L703.10,576.10 L703.19,574.60 L703.27,573.09 L703.35,571.57 L703.43,570.04 L703.51,568.49 L703.60,566.93 L703.68,565.36 L703.76,563.79 L703.84,562.20 L703.92,560.61 L704.01,559.01 L704.09,557.41 L704.17,555.81 L704.25,554.20 L704.33,552.59 L704.41,550.99 L704.50,549.38 L704.58,547.78 L704.66,546.18 L704.74,544.58 L704.82,542.99 L704.91,541.41 L704.99,539.84 L705.07,538.27 L705.15,536.72 L705.23,535.18 L705.31,533.65 L705.40,532.14 L705.48,530.64 L705.56,529.16 L705.64,527.70 L705.72,526.26 L705.81,524.84 L705.89,523.45 L705.97,522.07 L706.05,520.72 L706.13,519.40 L706.22,518.10 L706.30,516.83 L706.38,515.59 L706.46,514.38 L706.54,513.21 L706.62,512.06 L706.71,510.95 L706.79,509.88 L706.87,508.84 L706.95,507.84 L707.03,506.87 L707.12,505.95 L707.20,505.07 L707.28,504.22 L707.36,503.42 L707.44,502.66 L707.52,501.95 L707.61,501.28 L707.69,500.66 L707.77,500.08 L707.85,499.55 L707.93,499.07 L708.02,498.64 L708.10,498.26 L708.18,497.92 L708.26,497.64 L708.34,497.41 L708.43,497.23 L708.51,497.10 L708.59,497.02 L708.67,497.00 L708.75,497.03 L708.83,497.11 L708.92,497.25 L709.00,497.44 L709.08,497.68 L709.16,497.98 L709.24,498.33 L709.33,498.74 L709.41,499.20 L709.49,499.71 L709.57,500.28 L709.65,500.90 L709.73,501.57 L709.82,502.29 L709.90,503.07 L709.98,503.90 L710.06,504.78 L710.14,505.71 L710.23,506.70 L710.31,507.73 L710.39,508.81 L710.47,509.94 L710.55,511.11 L710.64,512.33 L710.72,513.60 L710.80,514.91 L710.88,516.27 L710.96,517.67 L711.04,519.10 L711.13,520.58 L711.21,522.10 L711.29,523.65 L711.37,525.24 L711.45,526.87 L711.54,528.53 L711.62,530.22 L711.70,531.94 L711.78,533.68 L711.86,535.46 L711.95,537.26 L712.03,539.08 L712.11,540.93 L712.19,542.80 L712.27,544.68 L712.35,546.58 L712.44,548.50 L712.52,550.42 L712.60,552.36 L712.68,554.31 L712.76,556.26 L712.85,558.22 L712.93,560.18 L713.01,562.14 L713.09,564.10 L713.17,566.05 L713.25,568.00 L713.34,569.94 L713.42,571.87 L713.50,573.79 L713.58,575.70 L713.66,577.58 L713.75,579.45 L713.83,581.30 L713.91,583.12 L713.99,584.92 L714.07,586.69 L714.16,588.44 L714.24,590.15 L714.32,591.82 L714.40,593.46 L714.48,595.07 L714.56,596.63 L714.65,598.15 L714.73,599.63 L714.81,601.06 L714.89,602.45 L714.97,603.78 L715.06,605.07 L715.14,606.30 L715.22,607.48 L715.30,608.60 L715.38,609.66 L715.46,610.67 L715.55,611.61 L715.63,612.49 L715.71,613.31 L715.79,614.06 L715.87,614.75 L715.96,615.37 L716.04,615.92 L716.12,616.40 L716.20,616.81 L716.28,617.16 L716.37,617.43 L716.45,617.62 L716.53,617.75 L716.61,617.80 L716.69,617.78 L716.77,617.68 L716.86,617.51 L716.94,617.26 L717.02,616.94 L717.10,616.55 L717.18,616.08 L717.27,615.53 L717.35,614.91 L717.43,614.22 L717.51,613.46 L717.59,612.62 L717.67,611.72 L717.76,610.74 L717.84,609.69 L717.92,608.57 L718.00,607.39 L718.08,606.14 L718.17,604.82 L718.25,603.45 L718.33,602.00 L718.41,600.50 L718.49,598.94 L718.58,597.32 L718.66,595.65 L718.74,593.93 L718.82,592.15 L718.90,590.32 L718.98,588.45 L719.07,586.54 L719.15,584.58 L719.23,582.58 L719.31,580.54 L719.39,578.47 L719.48,576.37 L719.56,574.24 L719.64,572.09 L719.72,569.91 L719.80,567.71 L719.88,565.49 L719.97,563.26 L720.05,561.01 L720.13,558.76 L720.21,556.50 L720.29,554.24 L720.38,551.98 L720.46,549.73 L720.54,547.48 L720.62,545.25 L720.70,543.03 L720.79,540.82 L720.87,538.64 L720.95,536.48 L721.03,534.34 L721.11,532.24 L721.19,530.17 L721.28,528.14 L721.36,526.14 L721.44,524.19 L721.52,522.29 L721.60,520.43 L721.69,518.63 L721.77,516.88 L721.85,515.18 L721.93,513.55 L722.01,511.98 L722.09,510.48 L722.18,509.04 L722.26,507.67 L722.34,506.38 L722.42,505.16 L722.50,504.02 L722.59,502.96 L722.67,501.98 L722.75,501.09 L722.83,500.27 L722.91,499.55 L723.00,498.91 L723.08,498.37 L723.16,497.91 L723.24,497.54 L723.32,497.27 L723.40,497.09 L723.49,497.01 L723.57,497.02 L723.65,497.12 L723.73,497.32 L723.81,497.62 L723.90,498.01 L723.98,498.49 L724.06,499.08 L724.14,499.75 L724.22,500.52 L724.31,501.38 L724.39,502.33 L724.47,503.37 L724.55,504.51 L724.63,505.73 L724.71,507.03 L724.80,508.42 L724.88,509.89 L724.96,511.45 L725.04,513.08 L725.12,514.78 L725.21,516.56 L725.29,518.41 L725.37,520.32 L725.45,522.31 L725.53,524.35 L725.61,526.45 L725.70,528.60 L725.78,530.81 L725.86,533.07 L725.94,535.37 L726.02,537.71 L726.11,540.08 L726.19,542.49 L726.27,544.93 L726.35,547.40 L726.43,549.88 L726.52,552.38 L726.60,554.89 L726.68,557.41 L726.76,559.94 L726.84,562.46 L726.92,564.97 L727.01,567.48 L727.09,569.97 L727.17,572.45 L727.25,574.90 L727.33,577.32 L727.42,579.71 L727.50,582.06 L727.58,584.37 L727.66,586.64 L727.74,588.85 L727.82,591.02 L727.91,593.12 L727.99,595.16 L728.07,597.14 L728.15,599.05 L728.23,600.88 L728.32,602.63 L728.40,604.31 L728.48,605.90 L728.56,607.40 L728.64,608.81 L728.73,610.13 L728.81,611.35 L728.89,612.48 L728.97,613.50 L729.05,614.41 L729.13,615.23 L729.22,615.93 L729.30,616.52 L729.38,617.00 L729.46,617.37 L729.54,617.63 L729.63,617.77 L729.71,617.80 L729.79,617.71 L729.87,617.50 L729.95,617.18 L730.03,616.74 L730.12,616.18 L730.20,615.51 L730.28,614.73 L730.36,613.83 L730.44,612.83 L730.53,611.71 L730.61,610.48 L730.69,609.15 L730.77,607.71 L730.85,606.17 L730.94,604.54 L731.02,602.80 L731.10,600.98 L731.18,599.06 L731.26,597.06 L731.34,594.98 L731.43,592.82 L731.51,590.58 L731.59,588.28 L731.67,585.90 L731.75,583.47 L731.84,580.98 L731.92,578.44 L732.00,575.86 L732.08,573.23 L732.16,570.56 L732.24,567.87 L732.33,565.15 L732.41,562.41 L732.49,559.66 L732.57,556.90 L732.65,554.14 L732.74,551.38 L732.82,548.63 L732.90,545.90 L732.98,543.18 L733.06,540.50 L733.15,537.84 L733.23,535.23 L733.31,532.66 L733.39,530.14 L733.47,527.67 L733.55,525.27 L733.64,522.93 L733.72,520.66 L733.80,518.47 L733.88,516.36 L733.96,514.34 L734.05,512.41 L734.13,510.58 L734.21,508.84 L734.29,507.21 L734.37,505.69 L734.46,504.28 L734.54,502.99 L734.62,501.82 L734.70,500.76 L734.78,499.84 L734.86,499.04 L734.95,498.37 L735.03,497.83 L735.11,497.42 L735.19,497.15 L735.27,497.02 L735.36,497.02 L735.44,497.16 L735.52,497.43 L735.60,497.84 L735.68,498.39 L735.76,499.07 L735.85,499.89 L735.93,500.84 L736.01,501.93 L736.09,503.14 L736.17,504.48 L736.26,505.94 L736.34,507.53 L736.42,509.23 L736.50,511.05 L736.58,512.98 L736.67,515.01 L736.75,517.15 L736.83,519.38 L736.91,521.71 L736.99,524.12 L737.07,526.62 L737.16,529.19 L737.24,531.83 L737.32,534.53 L737.40,537.30 L737.48,540.11 L737.57,542.97 L737.65,545.87 L737.73,548.80 L737.81,551.75 L737.89,554.72 L737.97,557.70 L738.06,560.68 L738.14,563.66 L738.22,566.62 L738.30,569.57 L738.38,572.49 L738.47,575.37 L738.55,578.22 L738.63,581.01 L738.71,583.75 L738.79,586.43 L738.88,589.04 L738.96,591.57 L739.04,594.02 L739.12,596.38 L739.20,598.65 L739.28,600.81 L739.37,602.87 L739.45,604.81 L739.53,606.63 L739.61,608.33 L739.69,609.91 L739.78,611.35 L739.86,612.65 L739.94,613.82 L740.02,614.84 L740.10,615.71 L740.18,616.44 L740.27,617.01 L740.35,617.43 L740.43,617.69 L740.51,617.80 L740.59,617.75 L740.68,617.54 L740.76,617.17 L740.84,616.64 L740.92,615.96 L741.00,615.13 L741.09,614.14 L741.17,613.00 L741.25,611.71 L741.33,610.27 L741.41,608.69 L741.49,606.97 L741.58,605.12 L741.66,603.14 L741.74,601.03 L741.82,598.81 L741.90,596.47 L741.99,594.02 L742.07,591.46 L742.15,588.82 L742.23,586.08 L742.31,583.27 L742.39,580.38 L742.48,577.42 L742.56,574.41 L742.64,571.34 L742.72,568.24 L742.80,565.10 L742.89,561.94 L742.97,558.76 L743.05,555.57 L743.13,552.39 L743.21,549.21 L743.30,546.06 L743.38,542.93 L743.46,539.84 L743.54,536.80 L743.62,533.81 L743.70,530.89 L743.79,528.04 L743.87,525.27 L743.95,522.59 L744.03,520.00 L744.11,517.52 L744.20,515.15 L744.28,512.90 L744.36,510.77 L744.44,508.78 L744.52,506.92 L744.61,505.21 L744.69,503.65 L744.77,502.24 L744.85,501.00 L744.93,499.91 L745.01,498.99 L745.10,498.25 L745.18,497.67 L745.26,497.27 L745.34,497.05 L745.42,497.01 L745.51,497.14 L745.59,497.45 L745.67,497.94 L745.75,498.61 L745.83,499.46 L745.91,500.48 L746.00,501.67 L746.08,503.02 L746.16,504.55 L746.24,506.23 L746.32,508.07 L746.41,510.06 L746.49,512.20 L746.57,514.48 L746.65,516.89 L746.73,519.42 L746.82,522.08 L746.90,524.84 L746.98,527.71 L747.06,530.67 L747.14,533.72 L747.22,536.84 L747.31,540.03 L747.39,543.28 L747.47,546.57 L747.55,549.90 L747.63,553.26 L747.72,556.63 L747.80,560.01 L747.88,563.38 L747.96,566.74 L748.04,570.08 L748.12,573.37 L748.21,576.62 L748.29,579.81 L748.37,582.93 L748.45,585.98 L748.53,588.94 L748.62,591.80 L748.70,594.55 L748.78,597.18 L748.86,599.69 L748.94,602.07 L749.03,604.31 L749.11,606.39 L749.19,608.32 L749.27,610.09 L749.35,611.69 L749.43,613.11 L749.52,614.35 L749.60,615.41 L749.68,616.27 L749.76,616.95 L749.84,617.43 L749.93,617.71 L750.01,617.80 L750.09,617.69 L750.17,617.37 L750.25,616.86 L750.33,616.15 L750.42,615.24 L750.50,614.14 L750.58,612.84 L750.66,611.37 L750.74,609.70 L750.83,607.87 L750.91,605.85 L750.99,603.68 L751.07,601.34 L751.15,598.86 L751.24,596.23 L751.32,593.47 L751.40,590.58 L751.48,587.57 L751.56,584.46 L751.64,581.26 L751.73,577.96 L751.81,574.60 L751.89,571.17 L751.97,567.69 L752.05,564.18 L752.14,560.63 L752.22,557.08 L752.30,553.51 L752.38,549.96 L752.46,546.44 L752.54,542.94 L752.63,539.50 L752.71,536.11 L752.79,532.80 L752.87,529.57 L752.95,526.43 L753.04,523.41 L753.12,520.49 L753.20,517.71 L753.28,515.07 L753.36,512.57 L753.45,510.24 L753.53,508.06 L753.61,506.07 L753.69,504.25 L753.77,502.63 L753.85,501.20 L753.94,499.97 L754.02,498.95 L754.10,498.14 L754.18,497.54 L754.26,497.17 L754.35,497.01 L754.43,497.07 L754.51,497.35 L754.59,497.85 L754.67,498.57 L754.75,499.51 L754.84,500.66 L754.92,502.02 L755.00,503.58 L755.08,505.35 L755.16,507.31 L755.25,509.47 L755.33,511.80 L755.41,514.30 L755.49,516.97 L755.57,519.79 L755.66,522.75 L755.74,525.84 L755.82,529.06 L755.90,532.39 L755.98,535.82 L756.06,539.32 L756.15,542.91 L756.23,546.55 L756.31,550.23 L756.39,553.94 L756.47,557.68 L756.56,561.41 L756.64,565.13 L756.72,568.83 L756.80,572.48 L756.88,576.08 L756.97,579.61 L757.05,583.06 L757.13,586.41 L757.21,589.65 L757.29,592.77 L757.37,595.76 L757.46,598.59 L757.54,601.27 L757.62,603.78 L757.70,606.11 L757.78,608.26 L757.87,610.20 L757.95,611.94 L758.03,613.46 L758.11,614.76 L758.19,615.84 L758.27,616.68 L758.36,617.29 L758.44,617.67 L758.52,617.80 L758.60,617.69 L758.68,617.34 L758.77,616.75 L758.85,615.92 L758.93,614.85 L759.01,613.56 L759.09,612.03 L759.18,610.28 L759.26,608.32 L759.34,606.14 L759.42,603.77 L759.50,601.21 L759.58,598.46 L759.67,595.55 L759.75,592.47 L759.83,589.25 L759.91,585.90 L759.99,582.43 L760.08,578.85 L760.16,575.17 L760.24,571.43 L760.32,567.62 L760.40,563.76 L760.48,559.88 L760.57,555.98 L760.65,552.08 L760.73,548.20 L760.81,544.36 L760.89,540.57 L760.98,536.85 L761.06,533.21 L761.14,529.67 L761.22,526.24 L761.30,522.94 L761.39,519.79 L761.47,516.79 L761.55,513.96 L761.63,511.32 L761.71,508.87 L761.79,506.62 L761.88,504.59 L761.96,502.78 L762.04,501.21 L762.12,499.88 L762.20,498.79 L762.29,497.96 L762.37,497.38 L762.45,497.07 L762.53,497.01 L762.61,497.22 L762.69,497.69 L762.78,498.41 L762.86,499.40 L762.94,500.64 L763.02,502.13 L763.10,503.87 L763.19,505.84 L763.27,508.04 L763.35,510.46 L763.43,513.09 L763.51,515.92 L763.60,518.93 L763.68,522.12 L763.76,525.47 L763.84,528.96 L763.92,532.58 L764.00,536.32 L764.09,540.15 L764.17,544.06 L764.25,548.04 L764.33,552.06 L764.41,556.11 L764.50,560.17 L764.58,564.22 L764.66,568.24 L764.74,572.22 L764.82,576.13 L764.90,579.96 L764.99,583.69 L765.07,587.30 L765.15,590.78 L765.23,594.11 L765.31,597.27 L765.40,600.26 L765.48,603.04 L765.56,605.62 L765.64,607.98 L765.72,610.11 L765.81,611.99 L765.89,613.63 L765.97,615.00 L766.05,616.11 L766.13,616.94 L766.21,617.49 L766.30,617.77 L766.38,617.76 L766.46,617.47 L766.54,616.90 L766.62,616.04 L766.71,614.91 L766.79,613.51 L766.87,611.84 L766.95,609.91 L767.03,607.72 L767.12,605.30 L767.20,602.65 L767.28,599.78 L767.36,596.71 L767.44,593.44 L767.52,590.00 L767.61,586.40 L767.69,582.66 L767.77,578.80 L767.85,574.82 L767.93,570.76 L768.02,566.64 L768.10,562.46 L768.18,558.26 L768.26,554.05 L768.34,549.85 L768.42,545.68 L768.51,541.57 L768.59,537.54 L768.67,533.59 L768.75,529.77 L768.83,526.07 L768.92,522.53 L769.00,519.15 L769.08,515.96 L769.16,512.98 L769.24,510.21 L769.33,507.67 L769.41,505.38 L769.49,503.34 L769.57,501.58 L769.65,500.09 L769.73,498.88 L769.82,497.97 L769.90,497.36 L769.98,497.04 L770.06,497.03 L770.14,497.33 L770.23,497.93 L770.31,498.82 L770.39,500.02 L770.47,501.51 L770.55,503.28 L770.63,505.33 L770.72,507.65 L770.80,510.22 L770.88,513.03 L770.96,516.08 L771.04,519.34 L771.13,522.79 L771.21,526.43 L771.29,530.23 L771.37,534.17 L771.45,538.23 L771.54,542.40 L771.62,546.65 L771.70,550.96 L771.78,555.30 L771.86,559.66 L771.94,564.01 L772.03,568.33 L772.11,572.59 L772.19,576.78 L772.27,580.87 L772.35,584.84 L772.44,588.67 L772.52,592.34 L772.60,595.82 L772.68,599.11 L772.76,602.17 L772.84,605.00 L772.93,607.59 L773.01,609.90 L773.09,611.94 L773.17,613.69 L773.25,615.14 L773.34,616.28 L773.42,617.11 L773.50,617.61 L773.58,617.80 L773.66,617.66 L773.75,617.19 L773.83,616.40 L773.91,615.30 L773.99,613.87 L774.07,612.15 L774.15,610.12 L774.24,607.80 L774.32,605.21 L774.40,602.35 L774.48,599.25 L774.56,595.92 L774.65,592.37 L774.73,588.63 L774.81,584.71 L774.89,580.64 L774.97,576.44 L775.05,572.13 L775.14,567.74 L775.22,563.28 L775.30,558.79 L775.38,554.29 L775.46,549.81 L775.55,545.36 L775.63,540.97 L775.71,536.68 L775.79,532.49 L775.87,528.45 L775.96,524.56 L776.04,520.86 L776.12,517.35 L776.20,514.07 L776.28,511.04 L776.36,508.26 L776.45,505.76 L776.53,503.55 L776.61,501.64 L776.69,500.05 L776.77,498.78 L776.86,497.85 L776.94,497.26 L777.02,497.01 L777.10,497.10 L777.18,497.55 L777.26,498.33 L777.35,499.46 L777.43,500.92 L777.51,502.71 L777.59,504.81 L777.67,507.22 L777.76,509.93 L777.84,512.91 L777.92,516.15 L778.00,519.63 L778.08,523.34 L778.17,527.24 L778.25,531.33 L778.33,535.57 L778.41,539.94 L778.49,544.42 L778.57,548.98 L778.66,553.59 L778.74,558.23 L778.82,562.86 L778.90,567.47 L778.98,572.02 L779.07,576.48 L779.15,580.84 L779.23,585.06 L779.31,589.12 L779.39,592.99 L779.48,596.65 L779.56,600.08 L779.64,603.26 L779.72,606.17 L779.80,608.78 L779.88,611.09 L779.97,613.07 L780.05,614.72 L780.13,616.03 L780.21,616.98 L780.29,617.57 L780.38,617.80 L780.46,617.66 L780.54,617.15 L780.62,616.28 L780.70,615.05 L780.78,613.47 L780.87,611.54 L780.95,609.28 L781.03,606.70 L781.11,603.82 L781.19,600.65 L781.28,597.21 L781.36,593.52 L781.44,589.60 L781.52,585.49 L781.60,581.20 L781.69,576.75 L781.77,572.19 L781.85,567.52 L781.93,562.79 L782.01,558.03 L782.09,553.26 L782.18,548.51 L782.26,543.81 L782.34,539.19 L782.42,534.69 L782.50,530.33 L782.59,526.13 L782.67,522.13 L782.75,518.34 L782.83,514.81 L782.91,511.53 L782.99,508.55 L783.08,505.88 L783.16,503.53 L783.24,501.52 L783.32,499.87 L783.40,498.58 L783.49,497.67 L783.57,497.15 L783.65,497.00 L783.73,497.25 L783.81,497.88 L783.90,498.90 L783.98,500.29 L784.06,502.05 L784.14,504.18 L784.22,506.65 L784.30,509.44 L784.39,512.56 L784.47,515.96 L784.55,519.64 L784.63,523.57 L784.71,527.72 L784.80,532.07 L784.88,536.58 L784.96,541.24 L785.04,546.00 L785.12,550.85 L785.20,555.74 L785.29,560.64 L785.37,565.53 L785.45,570.36 L785.53,575.11 L785.61,579.75 L785.70,584.25 L785.78,588.56 L785.86,592.68 L785.94,596.56 L786.02,600.18 L786.11,603.52 L786.19,606.56 L786.27,609.26 L786.35,611.62 L786.43,613.62 L786.51,615.24 L786.60,616.47 L786.68,617.31 L786.76,617.74 L786.84,617.76 L786.92,617.37 L787.01,616.58 L787.09,615.39 L787.17,613.80 L787.25,611.82 L787.33,609.48 L787.41,606.77 L787.50,603.73 L787.58,600.37 L787.66,596.71 L787.74,592.78 L787.82,588.60 L787.91,584.21 L787.99,579.62 L788.07,574.89 L788.15,570.02 L788.23,565.07 L788.32,560.06 L788.40,555.03 L788.48,550.01 L788.56,545.04 L788.64,540.16 L788.72,535.39 L788.81,530.77 L788.89,526.33 L788.97,522.11 L789.05,518.13 L789.13,514.43 L789.22,511.03 L789.30,507.94 L789.38,505.21 L789.46,502.84 L789.54,500.86 L789.63,499.27 L789.71,498.10 L789.79,497.34 L789.87,497.02 L789.95,497.12 L790.03,497.65 L790.12,498.60 L790.20,499.98 L790.28,501.76 L790.36,503.95 L790.44,506.52 L790.53,509.46 L790.61,512.75 L790.69,516.35 L790.77,520.26 L790.85,524.43 L790.93,528.85 L791.02,533.48 L791.10,538.28 L791.18,543.22 L791.26,548.27 L791.34,553.39 L791.43,558.55 L791.51,563.69 L791.59,568.80 L791.67,573.82 L791.75,578.73 L791.84,583.49 L791.92,588.05 L792.00,592.40 L792.08,596.49 L792.16,600.29 L792.24,603.78 L792.33,606.93 L792.41,609.72 L792.49,612.12 L792.57,614.12 L792.65,615.69 L792.74,616.84 L792.82,617.54 L792.90,617.80 L792.98,617.60 L793.06,616.96 L793.14,615.87 L793.23,614.34 L793.31,612.39 L793.39,610.02 L793.47,607.25 L793.55,604.11 L793.64,600.61 L793.72,596.78 L793.80,592.66 L793.88,588.26 L793.96,583.63 L794.05,578.80 L794.13,573.80 L794.21,568.67 L794.29,563.46 L794.37,558.19 L794.45,552.92 L794.54,547.67 L794.62,542.50 L794.70,537.44" stroke="#1a1a1a" stroke-width="1.05" fill="none" stroke-linejoin="round"/>
<path d="M678,487.8H788" stroke="#5e5e5e" stroke-width="1.2" fill="none"/>
<path d="M672.5,487.8L682.5,484.2V491.4ZM794.2,487.8L784.2,484.2V491.4Z" fill="#1a1a1a"/>
<ellipse cx="837.7" cy="552.7" rx="3.8" ry="3.2" fill="#1a1a1a"/>
<ellipse cx="847.8" cy="552.7" rx="3.8" ry="3.2" fill="#1a1a1a"/>
<ellipse cx="858.1" cy="552.7" rx="3.8" ry="3.2" fill="#1a1a1a"/>
<text transform="translate(734.75,480.8) scale(1.17,1)" text-anchor="middle" font-family="'Liberation Serif',serif" font-size="17.8" font-style="italic" fill="#1a1a1a">T</text>
<text transform="translate(691.25,661.6) scale(1.04,1)" text-anchor="middle" font-family="'Liberation Serif',serif" font-size="19.7" fill="#1a1a1a">(b)</text>
<text x="136.5" y="427.4" font-family="'Liberation Sans','Noto Sans CJK SC',sans-serif" font-weight="700" fill="#000"><tspan font-size="24" letter-spacing="0.75">Impulse</tspan><tspan font-size="24.4" dx="-0.5" dy="1.3" stroke="#000" stroke-width="0.35" stroke-linejoin="round">（冲击脉冲）</tspan></text>
<text x="552.3" y="420.8" font-family="'Liberation Sans','Noto Sans CJK SC',sans-serif" font-weight="700" fill="#000"><tspan font-size="24" letter-spacing="0">SFCW</tspan><tspan font-size="24.4" dx="-2.7" dy="1.3" stroke="#000" stroke-width="0.35" stroke-linejoin="round">（频率步进连续波）</tspan></text>
<text x="362" y="698.9" font-family="'Liberation Sans','Noto Sans CJK SC',sans-serif" font-weight="700" fill="#000"><tspan font-size="24" letter-spacing="1.4">FMCW</tspan><tspan font-size="24.4" dx="-2.6" dy="1.3" stroke="#000" stroke-width="0.35" stroke-linejoin="round">（调频连续波）</tspan></text>
</svg>
</body></html>
